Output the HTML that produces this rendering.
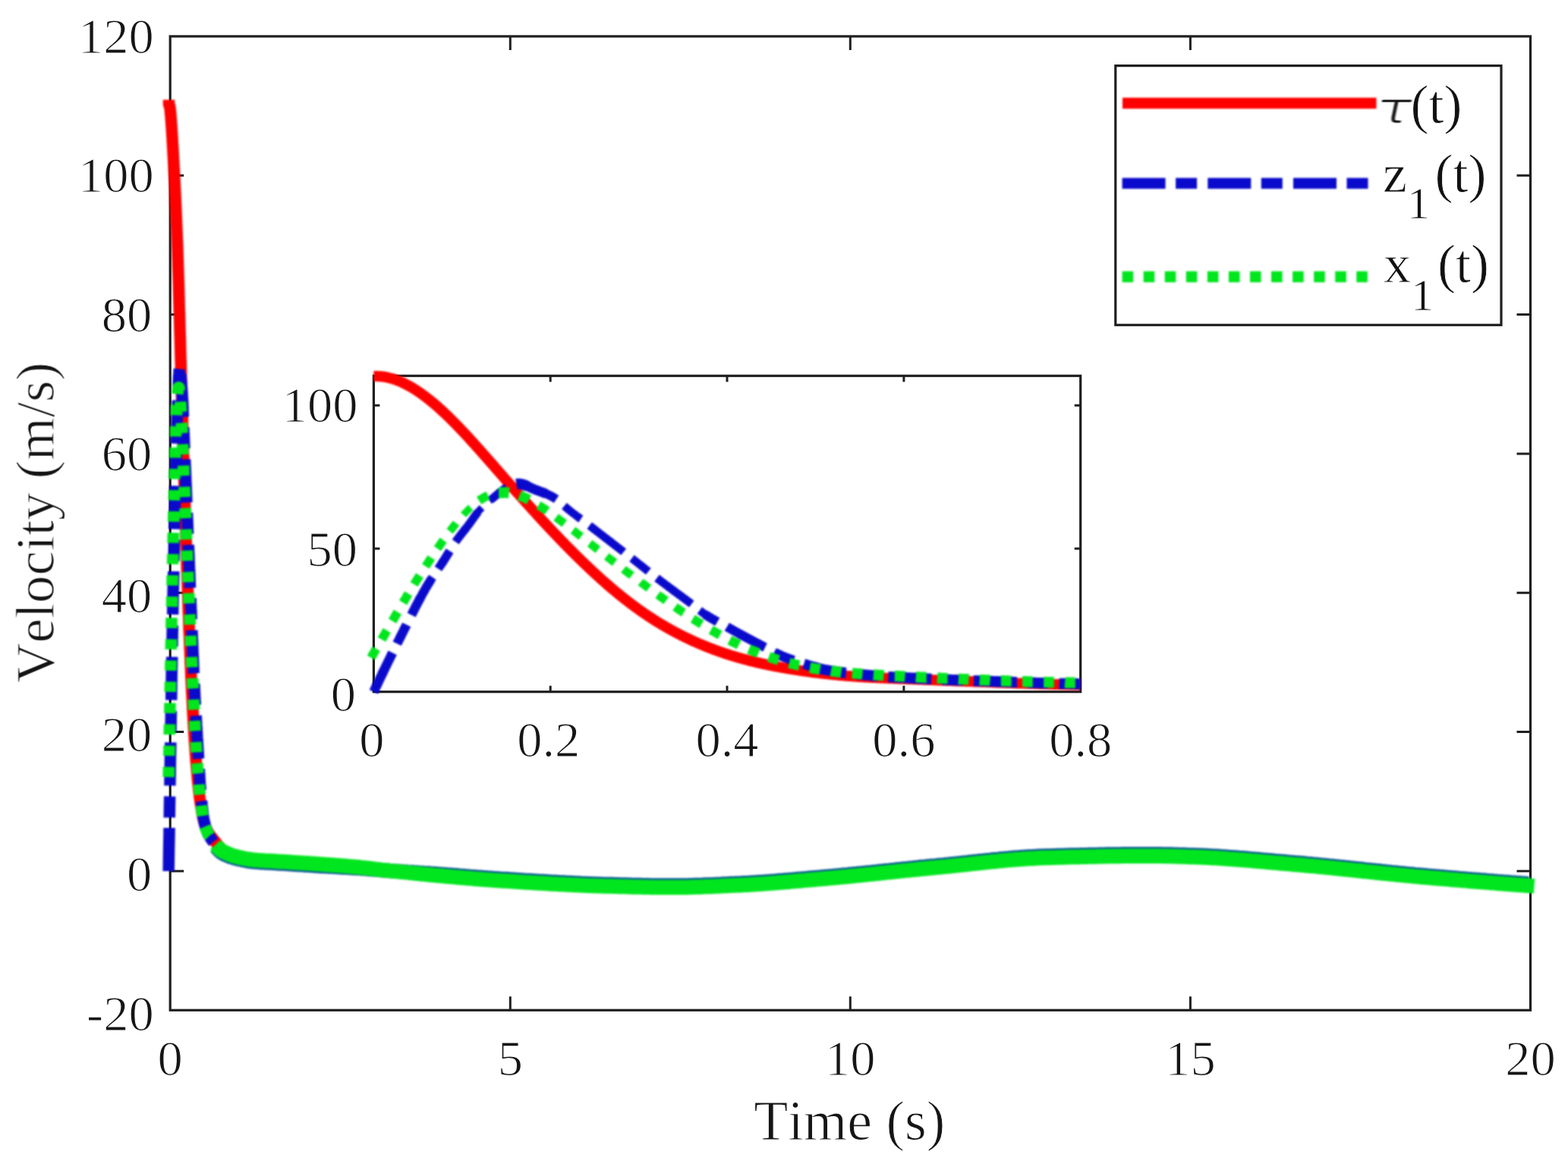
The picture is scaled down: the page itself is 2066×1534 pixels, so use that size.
<!DOCTYPE html>
<html lang="en"><head><meta charset="utf-8"><title>Velocity tracking plot</title>
<style>
html,body{margin:0;padding:0;background:#ffffff;}
body{width:2066px;height:1534px;overflow:hidden;}
svg{display:block;}
text{font-family:"Liberation Serif","DejaVu Serif",serif;fill:#151515;stroke:#ffffff;stroke-width:1.15px;paint-order:fill stroke;font-kerning:none;}
.tk{font-size:66.5px;}
.lab{font-size:74.2px;}
.leg{font-size:72.0px;fill:#111111;stroke-width:0.8px;}
.lab{stroke-width:1.1px;}
.ax{stroke:#1f1f1f;stroke-width:3.20;fill:none;}
.tick{stroke:#1f1f1f;stroke-width:3.00;fill:none;}
.c{fill:none;stroke-width:13.40;stroke-linejoin:round;}
text{filter:blur(0.75px);}
.cv{filter:blur(0.80px);}
.ci{stroke-width:13.4px;}
.cm{stroke-width:15.5px;}
.cl{stroke-width:14.4px;}
.r{stroke:#ff0000;}
.b{stroke:#0a0acc;stroke-dasharray:57 13.5 28 14.2;}
.g{stroke:#00e61e;stroke-dasharray:13.6 14.46;}
.gs{stroke:#00e61e;}
.bs{stroke:#0a0acc;}
</style></head>
<body>
<svg width="2066" height="1534" viewBox="0 0 2066 1534" role="img" aria-label="Velocity versus time plot">
<rect x="0" y="0" width="2066" height="1534" fill="#ffffff"/>
<g>
<g id="main-axes">
<rect class="ax" x="224.2" y="47.9" width="1792.3" height="1283.4"/>
<path class="tick" d="M672.3 1331.3 v-18.0 M672.3 47.9 v18.0 M1120.3 1331.3 v-18.0 M1120.3 47.9 v18.0 M1568.4 1331.3 v-18.0 M1568.4 47.9 v18.0 M224.2 1148.0 h18.0 M2016.5 1148.0 h-18.0 M224.2 964.6 h18.0 M2016.5 964.6 h-18.0 M224.2 781.3 h18.0 M2016.5 781.3 h-18.0 M224.2 597.9 h18.0 M2016.5 597.9 h-18.0 M224.2 414.6 h18.0 M2016.5 414.6 h-18.0 M224.2 231.2 h18.0 M2016.5 231.2 h-18.0"/>
<text class="tk" x="224.2" y="1417.0" text-anchor="middle">0</text>
<text class="tk" x="672.3" y="1417.0" text-anchor="middle">5</text>
<text class="tk" x="1120.3" y="1417.0" text-anchor="middle">10</text>
<text class="tk" x="1568.4" y="1417.0" text-anchor="middle">15</text>
<text class="tk" x="2016.5" y="1417.0" text-anchor="middle">20</text>
<text class="tk" x="202.7" y="1357.6" text-anchor="end">-20</text>
<text class="tk" x="200.3" y="1173.8" text-anchor="end">0</text>
<text class="tk" x="200.3" y="989.8" text-anchor="end">20</text>
<text class="tk" x="200.3" y="806.7" text-anchor="end">40</text>
<text class="tk" x="200.3" y="619.7" text-anchor="end">60</text>
<text class="tk" x="200.3" y="437.1" text-anchor="end">80</text>
<text class="tk" x="202.7" y="253.0" text-anchor="end">100</text>
<text class="tk" x="202.7" y="69.7" text-anchor="end">120</text>
<text class="lab" x="1119.3" y="1501.5" text-anchor="middle" style="font-size:73.8px">Time (s)</text>
<text class="lab" transform="translate(70.6 688.6) rotate(-90)" text-anchor="middle" style="font-size:72.8px">Velocity (m/s)</text>
</g>
<g id="main-curves" class="cv">
<path class="c cm r" d="M222.5 131.5 L222.5 137.7 L222.7 137.9 L222.9 138.2 L223.2 138.7 L223.4 139.3 L223.6 140.3 L223.8 141.7 L224.1 143.4 L224.3 145.2 L224.5 147.3 L224.7 149.7 L225.0 152.4 L225.2 155.3 L225.4 158.4 L225.7 161.8 L225.9 165.4 L226.2 169.2 L226.4 173.2 L226.7 177.4 L227.0 181.9 L227.2 186.5 L227.5 191.3 L227.8 196.3 L228.1 201.5 L228.4 206.9 L228.7 212.4 L229.0 218.1 L229.3 224.0 L229.6 230.0 L230.0 236.2 L230.3 242.5 L230.6 249.0 L230.9 255.6 L231.2 262.3 L231.5 269.1 L231.8 276.1 L232.1 283.1 L232.4 290.3 L232.7 297.5 L233.0 304.9 L233.3 312.3 L233.6 319.9 L233.9 327.5 L234.1 335.1 L234.4 342.9 L234.6 350.7 L234.9 358.5 L235.1 366.4 L235.4 374.3 L235.6 382.3 L235.8 390.3 L236.0 398.3 L236.2 406.4 L236.5 414.5 L236.7 422.5 L236.9 430.6 L237.1 438.7 L237.4 446.7 L237.6 454.8 L237.8 462.9 L238.0 470.9 L238.3 478.9 L238.5 486.9 L238.7 494.9 L238.9 502.9 L239.2 510.8 L239.4 518.8 L239.6 526.7 L239.8 534.6 L240.1 542.4 L240.3 550.3 L240.5 558.1 L240.7 565.9 L241.0 573.7 L241.2 581.4 L241.4 589.1 L241.6 596.8 L241.9 604.4 L242.1 612.0 L242.3 619.6 L242.5 627.1 L242.7 634.6 L243.0 642.1 L243.2 649.5 L243.4 656.9 L243.6 664.2 L243.9 671.5 L244.1 678.7 L244.3 685.9 L244.5 693.1 L244.8 700.2 L245.0 707.2 L245.2 714.2 L245.4 721.2 L245.7 728.1 L245.9 734.9 L246.1 741.7 L246.3 748.4 L246.6 755.1 L246.8 761.7 L247.0 768.3 L247.2 774.7 L247.5 781.2 L247.7 787.5 L247.9 793.8 L248.1 800.1 L248.3 806.2 L248.6 812.3 L248.8 818.3 L249.0 824.3 L249.2 830.2 L249.5 836.0 L249.7 841.7 L249.9 847.4 L250.1 852.9 L250.4 858.4 L250.6 863.9 L250.8 869.2 L251.0 874.4 L251.3 879.6 L251.5 884.7 L251.7 889.7 L251.9 894.6 L252.2 899.5 L252.4 904.2 L252.6 908.9 L252.8 913.5 L253.1 918.0 L253.3 922.4 L253.5 926.8 L253.7 931.1 L253.9 935.3 L254.2 939.4 L254.4 943.5 L254.6 947.5 L254.8 951.4 L255.1 955.2 L255.3 959.0 L255.5 962.7 L255.7 966.3 L256.0 969.8 L256.2 973.3 L256.4 976.7 L256.6 980.1 L256.9 983.4 L257.1 986.6 L257.3 989.8 L257.5 992.8 L257.8 995.9 L258.0 998.8 L258.2 1001.7 L258.4 1004.6 L258.7 1007.4 L258.9 1010.1 L259.1 1012.8 L259.3 1015.4 L259.5 1017.9 L259.8 1020.4 L260.0 1022.8 L260.2 1025.2 L260.4 1027.6 L260.7 1029.8 L260.9 1032.1 L261.1 1034.2 L261.3 1036.3 L261.6 1038.4 L261.8 1040.4 L262.0 1042.4 L262.2 1044.3 L262.5 1046.2 L262.7 1048.1 L262.9 1049.8 L263.1 1051.6 L263.4 1053.3 L263.6 1054.9 L263.8 1056.5 L264.0 1058.1 L264.3 1059.7 L264.5 1061.1 L264.7 1062.6 L264.9 1064.0 L265.2 1065.4 L265.4 1066.7 L265.6 1068.0 L265.8 1069.3 L266.0 1070.5 L266.3 1071.7 L266.5 1072.9 L266.7 1074.0 L266.9 1075.1 L267.2 1076.2 L267.4 1077.2 L267.6 1078.2 L267.8 1079.2 L268.1 1080.1 L268.3 1081.0 L268.5 1081.9 L268.7 1082.8 L269.0 1083.6 L269.2 1084.4 L269.4 1085.2 L269.6 1086.0 L269.9 1086.7 L270.1 1087.4 L270.3 1088.1 L270.5 1088.7 L270.8 1089.4 L271.0 1090.0 L271.2 1090.6 L271.4 1091.2 L271.6 1091.7 L271.9 1092.3 L272.1 1092.8 L272.3 1093.3 L272.5 1093.8 L272.8 1094.3 L273.0 1094.7 L273.2 1095.2 L273.4 1095.6 L273.7 1096.0 L273.9 1096.4 L274.1 1096.8 L274.3 1097.2 L274.6 1097.5 L274.8 1097.9 L275.0 1098.2 L275.2 1098.6 L275.5 1098.9 L275.7 1099.2 L275.9 1099.5 L276.1 1099.8 L276.4 1100.1 L276.6 1100.4 L276.8 1100.7 L277.0 1101.0 L277.2 1101.3 L277.5 1101.6 L277.7 1101.9 L277.9 1102.1 L278.1 1102.4 L278.4 1102.7 L278.6 1103.0 L278.8 1103.3 L279.0 1103.5 L279.3 1103.8 L279.5 1104.1 L279.7 1104.4 L279.9 1104.6 L280.2 1104.9 L280.4 1105.2 L280.6 1105.5 L280.8 1105.8 L281.1 1106.0 L281.3 1106.3 L281.5 1106.6 L281.7 1106.9 L282.0 1107.2 L282.2 1107.4 L282.4 1107.7 L282.6 1108.0 L282.8 1108.3 L283.1 1108.6 L283.3 1108.8 L283.5 1109.1 L283.7 1109.4 L284.0 1109.7 L284.2 1109.9 L284.4 1110.2 L284.6 1110.5 L284.9 1110.8 L285.1 1111.0 L285.3 1111.3 L285.5 1111.6 L285.8 1111.8 L286.0 1112.1 L286.2 1112.4 L286.4 1112.6 L286.7 1112.9 L286.9 1113.2 L287.1 1113.4 L287.3 1113.7 L287.6 1114.0 L287.8 1114.2 L288.0 1114.5 L288.2 1114.7 L288.5 1115.0 L288.7 1115.2 L288.9 1115.5 L289.1 1115.7 L289.3 1116.0 L289.6 1116.2 L289.8 1116.5 L290.0 1116.7 L290.2 1117.0 L290.5 1117.2 L290.7 1117.4 L290.9 1117.7 L291.1 1117.9 L291.4 1118.1 L291.6 1118.4 L291.8 1118.6 L292.0 1118.8 L292.3 1119.0 L292.5 1119.3 L292.7 1119.5 L292.9 1119.7 L293.2 1119.9 L293.4 1120.1 L293.6 1120.3 L293.8 1120.5 L294.1 1120.7 L294.3 1120.9 L294.5 1121.1 L294.7 1121.3 L294.9 1121.5 L295.2 1121.7 L295.4 1121.9 L295.6 1122.1 L295.8 1122.3 L296.1 1122.5 L296.3 1122.6 L296.5 1122.7 L296.7 1122.9 L297.0 1123.0 L297.2 1123.1 L297.4 1123.2 L297.6 1123.3 L297.9 1123.5 L298.1 1123.6 L298.3 1123.7 L298.5 1123.8 L298.8 1123.9 L299.0 1124.0 L299.2 1124.1 L299.4 1124.2 L299.7 1124.3 L299.9 1124.4 L300.1 1124.5 L300.3 1124.6 L300.5 1124.7 L300.8 1124.8 L301.0 1124.9 L301.2 1125.0 L301.4 1125.1 L301.7 1125.2 L301.9 1125.3 L302.1 1125.4 L302.3 1125.5 L302.6 1125.5 L302.8 1125.6 L303.0 1125.7 L303.2 1125.8 L303.5 1125.9 L303.7 1126.0 L303.9 1126.0 L304.1 1126.1 L304.4 1126.2 L304.6 1126.3 L304.8 1126.3 L305.0 1126.4 L305.3 1126.5 L305.5 1126.6 L305.7 1126.6 L305.9 1126.7 L306.1 1126.8 L306.4 1126.8 L306.6 1126.9 L306.8 1127.0 L307.0 1127.0 L307.3 1127.1 L307.5 1127.2 L307.7 1127.2 L307.9 1127.3 L308.2 1127.4 L308.4 1127.4 L308.6 1127.5 L308.8 1127.5 L309.1 1127.6 L309.3 1127.7 L309.5 1127.7 L309.7 1127.8 L310.0 1127.9 L310.2 1127.9 L310.4 1128.0 L310.6 1128.0 L310.9 1128.1 L311.1 1128.2 L311.3 1128.2 L311.5 1128.3 L311.8 1128.3 L312.0 1128.4 L312.2 1128.4 L312.4 1128.5 L312.6 1128.6 L312.9 1128.6 L313.1 1128.7 L313.3 1128.7 L313.5 1128.8 L313.8 1128.9 L314.0 1128.9 L314.2 1129.0 L317.6 1129.8 L321.0 1130.6 L324.5 1131.3 L327.9 1132.0 L331.3 1132.5 L334.7 1133.0 L338.1 1133.3 L341.5 1133.6 L344.9 1133.9 L348.3 1134.1 L351.7 1134.3 L355.2 1134.4 L358.6 1134.6 L362.0 1134.8 L365.4 1135.0 L368.8 1135.2 L372.2 1135.4 L375.6 1135.6 L379.0 1135.8 L382.5 1136.0 L385.9 1136.2 L389.3 1136.5 L392.7 1136.7 L396.1 1136.9 L399.5 1137.1 L402.9 1137.4 L406.3 1137.6 L409.8 1137.8 L413.2 1138.1 L416.6 1138.3 L420.0 1138.5 L423.4 1138.8 L426.8 1139.0 L430.2 1139.3 L433.6 1139.5 L437.1 1139.7 L440.5 1140.0 L443.9 1140.3 L447.3 1140.5 L450.7 1140.8 L454.1 1141.1 L457.5 1141.3 L460.9 1141.6 L464.4 1141.9 L467.8 1142.2 L471.2 1142.5 L474.6 1142.8 L478.0 1143.2 L481.4 1143.5 L484.8 1143.9 L488.2 1144.3 L491.6 1144.7 L495.1 1145.1 L498.5 1145.6 L501.9 1146.0 L505.3 1146.4 L508.7 1146.8 L512.1 1147.1 L515.5 1147.5 L518.9 1147.8 L522.4 1148.2 L525.8 1148.5 L529.2 1148.9 L532.6 1149.2 L536.0 1149.6 L539.4 1149.9 L542.8 1150.3 L546.2 1150.6 L549.7 1151.0 L553.1 1151.3 L556.5 1151.7 L559.9 1152.0 L563.3 1152.4 L566.7 1152.7 L570.1 1153.0 L573.5 1153.4 L577.0 1153.7 L580.4 1154.0 L583.8 1154.3 L587.2 1154.6 L590.6 1155.0 L594.0 1155.3 L597.4 1155.6 L600.8 1155.9 L604.3 1156.2 L607.7 1156.5 L611.1 1156.8 L614.5 1157.1 L617.9 1157.4 L621.3 1157.6 L624.7 1157.9 L628.1 1158.2 L631.5 1158.5 L635.0 1158.7 L638.4 1159.0 L641.8 1159.2 L645.2 1159.5 L648.6 1159.7 L652.0 1160.0 L655.4 1160.2 L658.8 1160.4 L662.3 1160.7 L665.7 1160.9 L669.1 1161.1 L672.5 1161.3 L675.9 1161.6 L679.3 1161.8 L682.7 1162.0 L686.1 1162.2 L689.6 1162.4 L693.0 1162.7 L696.4 1162.9 L699.8 1163.1 L703.2 1163.3 L706.6 1163.5 L710.0 1163.7 L713.4 1163.9 L716.9 1164.1 L720.3 1164.3 L723.7 1164.5 L727.1 1164.7 L730.5 1164.9 L733.9 1165.1 L737.3 1165.3 L740.7 1165.5 L744.2 1165.6 L747.6 1165.8 L751.0 1166.0 L754.4 1166.1 L757.8 1166.3 L761.2 1166.5 L764.6 1166.6 L768.0 1166.8 L771.4 1166.9 L774.9 1167.0 L778.3 1167.2 L781.7 1167.3 L785.1 1167.4 L788.5 1167.5 L791.9 1167.7 L795.3 1167.8 L798.7 1167.9 L802.2 1168.0 L805.6 1168.0 L809.0 1168.1 L812.4 1168.2 L815.8 1168.3 L819.2 1168.4 L822.6 1168.5 L826.0 1168.6 L829.5 1168.7 L832.9 1168.8 L836.3 1168.9 L839.7 1168.9 L843.1 1169.0 L846.5 1169.1 L849.9 1169.2 L853.3 1169.2 L856.8 1169.3 L860.2 1169.4 L863.6 1169.4 L867.0 1169.5 L870.4 1169.5 L873.8 1169.5 L877.2 1169.6 L880.6 1169.6 L884.1 1169.6 L887.5 1169.6 L890.9 1169.6 L894.3 1169.6 L897.7 1169.5 L901.1 1169.5 L904.5 1169.4 L907.9 1169.4 L911.3 1169.3 L914.8 1169.2 L918.2 1169.1 L921.6 1169.0 L925.0 1168.9 L928.4 1168.8 L931.8 1168.6 L935.2 1168.5 L938.6 1168.4 L942.1 1168.2 L945.5 1168.1 L948.9 1167.9 L952.3 1167.8 L955.7 1167.6 L959.1 1167.5 L962.5 1167.3 L965.9 1167.1 L969.4 1167.0 L972.8 1166.8 L976.2 1166.7 L979.6 1166.5 L983.0 1166.3 L986.4 1166.2 L989.8 1166.0 L993.2 1165.8 L996.7 1165.6 L1000.1 1165.3 L1003.5 1165.1 L1006.9 1164.9 L1010.3 1164.6 L1013.7 1164.4 L1017.1 1164.1 L1020.5 1163.9 L1024.0 1163.6 L1027.4 1163.3 L1030.8 1163.0 L1034.2 1162.8 L1037.6 1162.5 L1041.0 1162.2 L1044.4 1161.9 L1047.8 1161.6 L1051.2 1161.3 L1054.7 1161.0 L1058.1 1160.7 L1061.5 1160.4 L1064.9 1160.1 L1068.3 1159.8 L1071.7 1159.5 L1075.1 1159.2 L1078.5 1158.9 L1082.0 1158.6 L1085.4 1158.3 L1088.8 1158.0 L1092.2 1157.7 L1095.6 1157.4 L1099.0 1157.1 L1102.4 1156.8 L1105.8 1156.5 L1109.3 1156.1 L1112.7 1155.8 L1116.1 1155.5 L1119.5 1155.2 L1122.9 1154.8 L1126.3 1154.5 L1129.7 1154.1 L1133.1 1153.8 L1136.6 1153.5 L1140.0 1153.1 L1143.4 1152.8 L1146.8 1152.4 L1150.2 1152.1 L1153.6 1151.7 L1157.0 1151.4 L1160.4 1151.0 L1163.9 1150.6 L1167.3 1150.3 L1170.7 1149.9 L1174.1 1149.6 L1177.5 1149.2 L1180.9 1148.9 L1184.3 1148.5 L1187.7 1148.1 L1191.1 1147.8 L1194.6 1147.4 L1198.0 1147.1 L1201.4 1146.7 L1204.8 1146.4 L1208.2 1146.0 L1211.6 1145.7 L1215.0 1145.3 L1218.4 1145.0 L1221.9 1144.7 L1225.3 1144.3 L1228.7 1144.0 L1232.1 1143.7 L1235.5 1143.4 L1238.9 1143.0 L1242.3 1142.7 L1245.7 1142.4 L1249.2 1142.0 L1252.6 1141.7 L1256.0 1141.3 L1259.4 1141.0 L1262.8 1140.6 L1266.2 1140.3 L1269.6 1139.9 L1273.0 1139.5 L1276.5 1139.2 L1279.9 1138.8 L1283.3 1138.4 L1286.7 1138.0 L1290.1 1137.7 L1293.5 1137.3 L1296.9 1137.0 L1300.3 1136.6 L1303.8 1136.2 L1307.2 1135.9 L1310.6 1135.5 L1314.0 1135.2 L1317.4 1134.9 L1320.8 1134.5 L1324.2 1134.2 L1327.6 1133.9 L1331.0 1133.6 L1334.5 1133.3 L1337.9 1133.0 L1341.3 1132.7 L1344.7 1132.5 L1348.1 1132.2 L1351.5 1132.0 L1354.9 1131.8 L1358.3 1131.6 L1361.8 1131.4 L1365.2 1131.2 L1368.6 1131.0 L1372.0 1130.8 L1375.4 1130.7 L1378.8 1130.6 L1382.2 1130.5 L1385.6 1130.4 L1389.1 1130.3 L1392.5 1130.2 L1395.9 1130.1 L1399.3 1130.0 L1402.7 1129.9 L1406.1 1129.8 L1409.5 1129.7 L1412.9 1129.6 L1416.4 1129.6 L1419.8 1129.5 L1423.2 1129.4 L1426.6 1129.3 L1430.0 1129.2 L1433.4 1129.2 L1436.8 1129.1 L1440.2 1129.0 L1443.7 1128.9 L1447.1 1128.9 L1450.5 1128.8 L1453.9 1128.7 L1457.3 1128.7 L1460.7 1128.6 L1464.1 1128.6 L1467.5 1128.5 L1470.9 1128.5 L1474.4 1128.4 L1477.8 1128.4 L1481.2 1128.3 L1484.6 1128.3 L1488.0 1128.3 L1491.4 1128.3 L1494.8 1128.2 L1498.2 1128.2 L1501.7 1128.2 L1505.1 1128.2 L1508.5 1128.2 L1511.9 1128.2 L1515.3 1128.2 L1518.7 1128.2 L1522.1 1128.2 L1525.5 1128.2 L1529.0 1128.3 L1532.4 1128.3 L1535.8 1128.4 L1539.2 1128.4 L1542.6 1128.5 L1546.0 1128.6 L1549.4 1128.7 L1552.8 1128.8 L1556.3 1128.9 L1559.7 1129.0 L1563.1 1129.1 L1566.5 1129.2 L1569.9 1129.4 L1573.3 1129.5 L1576.7 1129.6 L1580.1 1129.7 L1583.6 1129.8 L1587.0 1130.0 L1590.4 1130.1 L1593.8 1130.3 L1597.2 1130.5 L1600.6 1130.7 L1604.0 1130.8 L1607.4 1131.0 L1610.8 1131.3 L1614.3 1131.5 L1617.7 1131.7 L1621.1 1132.0 L1624.5 1132.2 L1627.9 1132.4 L1631.3 1132.7 L1634.7 1133.0 L1638.1 1133.2 L1641.6 1133.5 L1645.0 1133.8 L1648.4 1134.1 L1651.8 1134.4 L1655.2 1134.7 L1658.6 1135.0 L1662.0 1135.3 L1665.4 1135.6 L1668.9 1135.9 L1672.3 1136.2 L1675.7 1136.5 L1679.1 1136.8 L1682.5 1137.1 L1685.9 1137.4 L1689.3 1137.7 L1692.7 1138.0 L1696.2 1138.3 L1699.6 1138.6 L1703.0 1138.9 L1706.4 1139.2 L1709.8 1139.5 L1713.2 1139.7 L1716.6 1140.0 L1720.0 1140.3 L1723.5 1140.7 L1726.9 1141.0 L1730.3 1141.3 L1733.7 1141.6 L1737.1 1141.9 L1740.5 1142.3 L1743.9 1142.6 L1747.3 1142.9 L1750.7 1143.3 L1754.2 1143.6 L1757.6 1143.9 L1761.0 1144.3 L1764.4 1144.6 L1767.8 1145.0 L1771.2 1145.3 L1774.6 1145.7 L1778.0 1146.0 L1781.5 1146.4 L1784.9 1146.8 L1788.3 1147.1 L1791.7 1147.5 L1795.1 1147.8 L1798.5 1148.2 L1801.9 1148.6 L1805.3 1148.9 L1808.8 1149.3 L1812.2 1149.6 L1815.6 1150.0 L1819.0 1150.3 L1822.4 1150.7 L1825.8 1151.0 L1829.2 1151.4 L1832.6 1151.7 L1836.1 1152.1 L1839.5 1152.4 L1842.9 1152.8 L1846.3 1153.1 L1849.7 1153.4 L1853.1 1153.8 L1856.5 1154.1 L1859.9 1154.4 L1863.4 1154.7 L1866.8 1155.1 L1870.2 1155.4 L1873.6 1155.7 L1877.0 1156.0 L1880.4 1156.3 L1883.8 1156.6 L1887.2 1156.9 L1890.6 1157.2 L1894.1 1157.5 L1897.5 1157.8 L1900.9 1158.1 L1904.3 1158.3 L1907.7 1158.6 L1911.1 1158.9 L1914.5 1159.2 L1917.9 1159.5 L1921.4 1159.8 L1924.8 1160.1 L1928.2 1160.4 L1931.6 1160.6 L1935.0 1160.9 L1938.4 1161.2 L1941.8 1161.5 L1945.2 1161.7 L1948.7 1162.0 L1952.1 1162.3 L1955.5 1162.6 L1958.9 1162.8 L1962.3 1163.1 L1965.7 1163.4 L1969.1 1163.6 L1972.5 1163.9 L1976.0 1164.2 L1979.4 1164.4 L1982.8 1164.7 L1986.2 1164.9 L1989.6 1165.2 L1993.0 1165.5 L1996.4 1165.7 L1999.8 1166.0 L2003.3 1166.2 L2006.7 1166.5 L2010.1 1166.7 L2013.5 1167.0 L2016.9 1167.2"/>
<path class="c bs" style="stroke-width:19.5;stroke:#0a5a96" d="M284.9 1116.5 L285.2 1116.8 L285.4 1117.0 L285.6 1117.3 L285.8 1117.6 L286.1 1117.8 L286.3 1118.1 L286.5 1118.3 L286.7 1118.6 L286.9 1118.9 L287.2 1119.1 L287.4 1119.4 L287.6 1119.6 L287.8 1119.9 L288.1 1120.1 L288.3 1120.4 L288.5 1120.6 L288.7 1120.8 L289.0 1121.0 L289.2 1121.3 L289.4 1121.5 L289.6 1121.7 L289.9 1121.9 L290.1 1122.1 L290.3 1122.3 L290.5 1122.5 L290.8 1122.6 L291.0 1122.8 L291.2 1123.0 L291.4 1123.2 L291.7 1123.3 L291.9 1123.5 L292.1 1123.7 L292.3 1123.8 L292.5 1124.0 L292.8 1124.1 L293.0 1124.3 L293.2 1124.4 L293.4 1124.5 L293.7 1124.7 L293.9 1124.8 L294.1 1124.9 L294.3 1125.0 L294.6 1125.2 L294.8 1125.3 L295.0 1125.4 L295.2 1125.5 L295.5 1125.6 L295.7 1125.7 L295.9 1125.8 L296.1 1126.0 L296.4 1126.1 L296.6 1126.2 L296.8 1126.3 L297.0 1126.4 L297.3 1126.5 L297.5 1126.6 L297.7 1126.7 L297.9 1126.8 L298.1 1126.9 L298.4 1127.0 L298.6 1127.1 L298.8 1127.2 L299.0 1127.3 L299.3 1127.4 L299.5 1127.5 L299.7 1127.6 L299.9 1127.7 L300.2 1127.8 L300.4 1127.9 L300.6 1128.0 L300.8 1128.1 L301.1 1128.2 L301.3 1128.3 L301.5 1128.3 L301.7 1128.4 L302.0 1128.5 L302.2 1128.6 L302.4 1128.7 L302.6 1128.8 L302.9 1128.9 L303.1 1128.9 L303.3 1129.0 L303.5 1129.1 L303.7 1129.2 L304.0 1129.2 L304.2 1129.3 L304.4 1129.4 L304.6 1129.5 L304.9 1129.5 L305.1 1129.6 L305.3 1129.7 L305.5 1129.8 L305.8 1129.8 L306.0 1129.9 L306.2 1130.0 L306.4 1130.0 L306.7 1130.1 L306.9 1130.2 L307.1 1130.2 L307.3 1130.3 L307.6 1130.4 L307.8 1130.4 L308.0 1130.5 L308.2 1130.5 L308.5 1130.6 L308.7 1130.7 L308.9 1130.7 L309.1 1130.8 L309.4 1130.8 L309.6 1130.9 L309.8 1131.0 L310.0 1131.0 L310.2 1131.1 L310.5 1131.1 L310.7 1131.2 L310.9 1131.3 L311.1 1131.3 L311.4 1131.4 L311.6 1131.4 L311.8 1131.5 L315.2 1132.3 L318.6 1133.1 L322.1 1133.8 L325.5 1134.5 L328.9 1135.0 L332.3 1135.5 L335.7 1135.8 L339.1 1136.1 L342.5 1136.4 L345.9 1136.6 L349.3 1136.8 L352.8 1136.9 L356.2 1137.1 L359.6 1137.3 L363.0 1137.5 L366.4 1137.7 L369.8 1137.9 L373.2 1138.1 L376.6 1138.3 L380.1 1138.5 L383.5 1138.7 L386.9 1139.0 L390.3 1139.2 L393.7 1139.4 L397.1 1139.6 L400.5 1139.9 L403.9 1140.1 L407.4 1140.3 L410.8 1140.5 L414.2 1140.7 L417.6 1141.0 L421.0 1141.2 L424.4 1141.4 L427.8 1141.6 L431.2 1141.8 L434.7 1141.9 L438.1 1142.1 L441.5 1142.3 L444.9 1142.5 L448.3 1142.7 L451.7 1142.9 L455.1 1143.1 L458.5 1143.3 L462.0 1143.5 L465.4 1143.7 L468.8 1143.9 L472.2 1144.1 L475.6 1144.4 L479.0 1144.6 L482.4 1144.9 L485.8 1145.2 L489.2 1145.5 L492.7 1145.8 L496.1 1146.1 L499.5 1146.4 L502.9 1146.7 L506.3 1147.0 L509.7 1147.2 L513.1 1147.5 L516.5 1147.7 L520.0 1148.0 L523.4 1148.2 L526.8 1148.4 L530.2 1148.7 L533.6 1148.9 L537.0 1149.2 L540.4 1149.4 L543.8 1149.6 L547.3 1149.9 L550.7 1150.1 L554.1 1150.4 L557.5 1150.6 L560.9 1150.9 L564.3 1151.1 L567.7 1151.3 L571.1 1151.6 L574.6 1151.8 L578.0 1152.1 L581.4 1152.3 L584.8 1152.6 L588.2 1152.8 L591.6 1153.1 L595.0 1153.3 L598.4 1153.6 L601.9 1153.8 L605.3 1154.1 L608.7 1154.4 L612.1 1154.6 L615.5 1154.9 L618.9 1155.2 L622.3 1155.4 L625.7 1155.7 L629.1 1156.0 L632.6 1156.2 L636.0 1156.5 L639.4 1156.7 L642.8 1157.0 L646.2 1157.2 L649.6 1157.5 L653.0 1157.7 L656.4 1157.9 L659.9 1158.2 L663.3 1158.4 L666.7 1158.6 L670.1 1158.8 L673.5 1159.1 L676.9 1159.3 L680.3 1159.5 L683.7 1159.7 L687.2 1159.9 L690.6 1160.2 L694.0 1160.4 L697.4 1160.6 L700.8 1160.8 L704.2 1161.0 L707.6 1161.2 L711.0 1161.4 L714.5 1161.6 L717.9 1161.8 L721.3 1162.0 L724.7 1162.2 L728.1 1162.4 L731.5 1162.6 L734.9 1162.8 L738.3 1163.0 L741.8 1163.1 L745.2 1163.3 L748.6 1163.5 L752.0 1163.6 L755.4 1163.8 L758.8 1164.0 L762.2 1164.1 L765.6 1164.3 L769.0 1164.4 L772.5 1164.5 L775.9 1164.7 L779.3 1164.8 L782.7 1164.9 L786.1 1165.0 L789.5 1165.2 L792.9 1165.3 L796.3 1165.4 L799.8 1165.5 L803.2 1165.5 L806.6 1165.6 L810.0 1165.7 L813.4 1165.8 L816.8 1165.9 L820.2 1166.0 L823.6 1166.1 L827.1 1166.2 L830.5 1166.3 L833.9 1166.4 L837.3 1166.4 L840.7 1166.5 L844.1 1166.6 L847.5 1166.7 L850.9 1166.7 L854.4 1166.8 L857.8 1166.9 L861.2 1166.9 L864.6 1167.0 L868.0 1167.0 L871.4 1167.0 L874.8 1167.1 L878.2 1167.1 L881.7 1167.1 L885.1 1167.1 L888.5 1167.1 L891.9 1167.1 L895.3 1167.0 L898.7 1167.0 L902.1 1166.9 L905.5 1166.9 L908.9 1166.8 L912.4 1166.7 L915.8 1166.6 L919.2 1166.5 L922.6 1166.4 L926.0 1166.3 L929.4 1166.1 L932.8 1166.0 L936.2 1165.9 L939.7 1165.7 L943.1 1165.6 L946.5 1165.4 L949.9 1165.3 L953.3 1165.1 L956.7 1165.0 L960.1 1164.8 L963.5 1164.6 L967.0 1164.5 L970.4 1164.3 L973.8 1164.2 L977.2 1164.0 L980.6 1163.8 L984.0 1163.7 L987.4 1163.5 L990.8 1163.3 L994.3 1163.1 L997.7 1162.8 L1001.1 1162.6 L1004.5 1162.4 L1007.9 1162.1 L1011.3 1161.9 L1014.7 1161.6 L1018.1 1161.4 L1021.6 1161.1 L1025.0 1160.8 L1028.4 1160.5 L1031.8 1160.3 L1035.2 1160.0 L1038.6 1159.7 L1042.0 1159.4 L1045.4 1159.1 L1048.8 1158.8 L1052.3 1158.5 L1055.7 1158.2 L1059.1 1157.9 L1062.5 1157.6 L1065.9 1157.3 L1069.3 1157.0 L1072.7 1156.7 L1076.1 1156.4 L1079.6 1156.1 L1083.0 1155.8 L1086.4 1155.5 L1089.8 1155.2 L1093.2 1154.9 L1096.6 1154.6 L1100.0 1154.3 L1103.4 1154.0 L1106.9 1153.6 L1110.3 1153.3 L1113.7 1153.0 L1117.1 1152.7 L1120.5 1152.3 L1123.9 1152.0 L1127.3 1151.6 L1130.7 1151.3 L1134.2 1151.0 L1137.6 1150.6 L1141.0 1150.3 L1144.4 1149.9 L1147.8 1149.6 L1151.2 1149.2 L1154.6 1148.9 L1158.0 1148.5 L1161.5 1148.1 L1164.9 1147.8 L1168.3 1147.4 L1171.7 1147.1 L1175.1 1146.7 L1178.5 1146.4 L1181.9 1146.0 L1185.3 1145.6 L1188.7 1145.3 L1192.2 1144.9 L1195.6 1144.6 L1199.0 1144.2 L1202.4 1143.9 L1205.8 1143.5 L1209.2 1143.2 L1212.6 1142.8 L1216.0 1142.5 L1219.5 1142.2 L1222.9 1141.8 L1226.3 1141.5 L1229.7 1141.2 L1233.1 1140.9 L1236.5 1140.5 L1239.9 1140.2 L1243.3 1139.9 L1246.8 1139.5 L1250.2 1139.2 L1253.6 1138.8 L1257.0 1138.5 L1260.4 1138.1 L1263.8 1137.8 L1267.2 1137.4 L1270.6 1137.0 L1274.1 1136.7 L1277.5 1136.3 L1280.9 1135.9 L1284.3 1135.5 L1287.7 1135.2 L1291.1 1134.8 L1294.5 1134.5 L1297.9 1134.1 L1301.4 1133.7 L1304.8 1133.4 L1308.2 1133.0 L1311.6 1132.7 L1315.0 1132.4 L1318.4 1132.0 L1321.8 1131.7 L1325.2 1131.4 L1328.6 1131.1 L1332.1 1130.8 L1335.5 1130.5 L1338.9 1130.2 L1342.3 1130.0 L1345.7 1129.7 L1349.1 1129.5 L1352.5 1129.3 L1355.9 1129.1 L1359.4 1128.9 L1362.8 1128.7 L1366.2 1128.5 L1369.6 1128.3 L1373.0 1128.2 L1376.4 1128.1 L1379.8 1128.0 L1383.2 1127.9 L1386.7 1127.8 L1390.1 1127.7 L1393.5 1127.6 L1396.9 1127.5 L1400.3 1127.4 L1403.7 1127.3 L1407.1 1127.2 L1410.5 1127.1 L1414.0 1127.1 L1417.4 1127.0 L1420.8 1126.9 L1424.2 1126.8 L1427.6 1126.7 L1431.0 1126.7 L1434.4 1126.6 L1437.8 1126.5 L1441.3 1126.4 L1444.7 1126.4 L1448.1 1126.3 L1451.5 1126.2 L1454.9 1126.2 L1458.3 1126.1 L1461.7 1126.1 L1465.1 1126.0 L1468.5 1126.0 L1472.0 1125.9 L1475.4 1125.9 L1478.8 1125.8 L1482.2 1125.8 L1485.6 1125.8 L1489.0 1125.8 L1492.4 1125.7 L1495.8 1125.7 L1499.3 1125.7 L1502.7 1125.7 L1506.1 1125.7 L1509.5 1125.7 L1512.9 1125.7 L1516.3 1125.7 L1519.7 1125.7 L1523.1 1125.7 L1526.6 1125.8 L1530.0 1125.8 L1533.4 1125.9 L1536.8 1125.9 L1540.2 1126.0 L1543.6 1126.1 L1547.0 1126.2 L1550.4 1126.3 L1553.9 1126.4 L1557.3 1126.5 L1560.7 1126.6 L1564.1 1126.7 L1567.5 1126.9 L1570.9 1127.0 L1574.3 1127.1 L1577.7 1127.2 L1581.2 1127.3 L1584.6 1127.5 L1588.0 1127.6 L1591.4 1127.8 L1594.8 1128.0 L1598.2 1128.2 L1601.6 1128.3 L1605.0 1128.5 L1608.4 1128.8 L1611.9 1129.0 L1615.3 1129.2 L1618.7 1129.5 L1622.1 1129.7 L1625.5 1129.9 L1628.9 1130.2 L1632.3 1130.5 L1635.7 1130.7 L1639.2 1131.0 L1642.6 1131.3 L1646.0 1131.6 L1649.4 1131.9 L1652.8 1132.2 L1656.2 1132.5 L1659.6 1132.8 L1663.0 1133.1 L1666.5 1133.4 L1669.9 1133.7 L1673.3 1134.0 L1676.7 1134.3 L1680.1 1134.6 L1683.5 1134.9 L1686.9 1135.2 L1690.3 1135.5 L1693.8 1135.8 L1697.2 1136.1 L1700.6 1136.4 L1704.0 1136.7 L1707.4 1137.0 L1710.8 1137.2 L1714.2 1137.5 L1717.6 1137.8 L1721.1 1138.2 L1724.5 1138.5 L1727.9 1138.8 L1731.3 1139.1 L1734.7 1139.4 L1738.1 1139.8 L1741.5 1140.1 L1744.9 1140.4 L1748.3 1140.8 L1751.8 1141.1 L1755.2 1141.4 L1758.6 1141.8 L1762.0 1142.1 L1765.4 1142.5 L1768.8 1142.8 L1772.2 1143.2 L1775.6 1143.5 L1779.1 1143.9 L1782.5 1144.3 L1785.9 1144.6 L1789.3 1145.0 L1792.7 1145.3 L1796.1 1145.7 L1799.5 1146.1 L1802.9 1146.4 L1806.4 1146.8 L1809.8 1147.1 L1813.2 1147.5 L1816.6 1147.8 L1820.0 1148.2 L1823.4 1148.5 L1826.8 1148.9 L1830.2 1149.2 L1833.7 1149.6 L1837.1 1149.9 L1840.5 1150.3 L1843.9 1150.6 L1847.3 1150.9 L1850.7 1151.3 L1854.1 1151.6 L1857.5 1151.9 L1861.0 1152.2 L1864.4 1152.6 L1867.8 1152.9 L1871.2 1153.2 L1874.6 1153.5 L1878.0 1153.8 L1881.4 1154.1 L1884.8 1154.4 L1888.2 1154.7 L1891.7 1155.0 L1895.1 1155.3 L1898.5 1155.6 L1901.9 1155.8 L1905.3 1156.1 L1908.7 1156.4 L1912.1 1156.7 L1915.5 1157.0 L1919.0 1157.3 L1922.4 1157.6 L1925.8 1157.9 L1929.2 1158.1 L1932.6 1158.4 L1936.0 1158.7 L1939.4 1159.0 L1942.8 1159.2 L1946.3 1159.5 L1949.7 1159.8 L1953.1 1160.1 L1956.5 1160.3 L1959.9 1160.6 L1963.3 1160.9 L1966.7 1161.1 L1970.1 1161.4 L1973.6 1161.7 L1977.0 1161.9 L1980.4 1162.2 L1983.8 1162.4 L1987.2 1162.7 L1990.6 1163.0 L1994.0 1163.2 L1997.4 1163.5 L2000.9 1163.7 L2004.3 1164.0 L2007.7 1164.2 L2011.1 1164.5 L2014.5 1164.7"/>
<path class="c cm b" d="M222.2 1148.0 L222.4 1133.0 L222.6 1118.1 L222.9 1103.3 L223.1 1088.6 L223.3 1073.9 L223.5 1059.3 L223.8 1044.9 L224.0 1030.5 L224.2 1016.2 L224.4 1001.9 L224.7 987.8 L224.9 973.8 L225.1 959.7 L225.3 945.6 L225.6 931.5 L225.8 917.4 L226.0 903.4 L226.2 889.5 L226.5 875.8 L226.7 862.2 L226.9 849.0 L227.1 836.0 L227.4 823.4 L227.6 811.2 L227.8 799.5 L228.0 788.3 L228.2 777.6 L228.5 767.1 L228.7 756.7 L228.9 746.3 L229.1 735.7 L229.4 724.7 L229.6 713.4 L229.8 702.0 L230.0 690.6 L230.3 679.5 L230.5 668.9 L230.7 659.0 L230.9 649.5 L231.2 640.5 L231.4 631.6 L231.6 622.7 L231.8 613.5 L232.1 603.8 L232.3 593.8 L232.5 583.9 L232.7 574.6 L233.0 566.2 L233.2 558.8 L233.4 551.9 L233.6 545.5 L233.8 539.4 L234.1 533.6 L234.3 527.8 L234.5 522.0 L234.7 516.0 L235.0 510.0 L235.2 504.4 L235.4 499.3 L235.6 495.3 L235.9 492.1 L236.1 489.0 L236.3 486.2 L236.5 484.0 L236.8 482.7 L237.0 482.5 L237.2 483.5 L237.4 485.4 L237.7 488.1 L237.9 491.2 L238.1 494.5 L238.3 497.7 L238.6 500.6 L238.8 503.3 L239.0 505.9 L239.2 508.6 L239.5 511.3 L239.7 514.2 L239.9 517.3 L240.1 520.6 L240.3 524.3 L240.6 528.5 L240.8 533.6 L241.0 539.2 L241.2 545.1 L241.5 551.4 L241.7 557.6 L241.9 563.7 L242.1 569.5 L242.4 575.0 L242.6 580.4 L242.8 585.8 L243.0 591.1 L243.3 596.3 L243.5 601.6 L243.7 606.9 L243.9 612.2 L244.2 617.6 L244.4 623.0 L244.6 628.5 L244.8 634.0 L245.1 639.5 L245.3 645.0 L245.5 650.5 L245.7 656.0 L245.9 661.4 L246.2 666.9 L246.4 672.3 L246.6 677.7 L246.8 683.1 L247.1 688.6 L247.3 694.0 L247.5 699.5 L247.7 705.0 L248.0 710.6 L248.2 716.1 L248.4 721.6 L248.6 727.2 L248.9 732.7 L249.1 738.3 L249.3 743.8 L249.5 749.4 L249.8 755.0 L250.0 760.6 L250.2 766.3 L250.4 771.8 L250.7 777.4 L250.9 782.8 L251.1 788.3 L251.3 793.6 L251.5 799.0 L251.8 804.3 L252.0 809.6 L252.2 814.9 L252.4 820.1 L252.7 825.4 L252.9 830.6 L253.1 835.9 L253.3 841.1 L253.6 846.3 L253.8 851.5 L254.0 856.7 L254.2 862.0 L254.5 867.5 L254.7 873.0 L254.9 878.7 L255.1 884.2 L255.4 889.7 L255.6 895.0 L255.8 900.1 L256.0 904.8 L256.3 909.3 L256.5 913.5 L256.7 917.5 L256.9 921.4 L257.1 925.2 L257.4 928.9 L257.6 932.7 L257.8 936.5 L258.0 940.3 L258.3 944.2 L258.5 948.2 L258.7 952.1 L258.9 956.0 L259.2 959.9 L259.4 963.8 L259.6 967.7 L259.8 971.5 L260.1 975.3 L260.3 979.1 L260.5 982.8 L260.7 986.6 L261.0 990.3 L261.2 994.0 L261.4 997.7 L261.6 1001.4 L261.9 1005.2 L262.1 1009.0 L262.3 1012.8 L262.5 1016.7 L262.8 1020.4 L263.0 1024.1 L263.2 1027.6 L263.4 1031.0 L263.6 1034.1 L263.9 1037.0 L264.1 1039.8 L264.3 1042.5 L264.5 1045.1 L264.8 1047.5 L265.0 1049.9 L265.2 1052.2 L265.4 1054.5 L265.7 1056.7 L265.9 1058.9 L266.1 1061.0 L266.3 1063.2 L266.6 1065.4 L266.8 1067.5 L267.0 1069.6 L267.2 1071.6 L267.5 1073.4 L267.7 1075.2 L267.9 1076.7 L268.1 1078.1 L268.4 1079.3 L268.6 1080.4 L268.8 1081.5 L269.0 1082.6 L269.2 1083.6 L269.5 1084.5 L269.7 1085.5 L269.9 1086.3 L270.1 1087.2 L270.4 1088.0 L270.6 1088.8 L270.8 1089.5 L271.0 1090.3 L271.3 1091.0 L271.5 1091.7 L271.7 1092.4 L271.9 1093.0 L272.2 1093.7 L272.4 1094.3 L272.6 1095.0 L272.8 1095.6 L273.1 1096.2 L273.3 1096.8 L273.5 1097.4 L273.7 1098.0 L274.0 1098.5 L274.2 1099.0 L274.4 1099.5 L274.6 1100.0 L274.8 1100.4 L275.1 1100.8 L275.3 1101.1 L275.5 1101.5 L275.7 1101.8 L276.0 1102.1 L276.2 1102.5 L276.4 1102.8 L276.6 1103.2 L276.9 1103.5 L277.1 1103.9 L277.3 1104.2 L277.5 1104.6 L277.8 1105.0 L278.0 1105.3 L278.2 1105.7 L278.4 1106.0 L278.7 1106.3 L278.9 1106.7 L279.1 1107.0 L279.3 1107.3 L279.6 1107.6 L279.8 1107.9 L280.0 1108.2 L280.2 1108.5 L280.4 1108.8 L280.7 1109.1 L280.9 1109.4 L281.1 1109.6 L281.3 1109.9 L281.6 1110.2 L281.8 1110.5 L282.0 1110.7 L282.2 1111.0 L282.5 1111.2 L282.7 1111.5 L282.9 1111.8 L283.1 1112.0 L283.4 1112.3 L283.6 1112.5 L283.8 1112.8 L284.0 1113.0 L284.3 1113.3 L284.5 1113.5 L284.7 1113.8"/>
<path class="c gs" style="stroke-width:19.5" d="M284.9 1114.3 L285.2 1114.6 L285.4 1114.9 L285.6 1115.2 L285.8 1115.4 L286.1 1115.7 L286.3 1115.9 L286.5 1116.2 L286.7 1116.5 L286.9 1116.7 L287.2 1116.9 L287.4 1117.2 L287.6 1117.4 L287.8 1117.7 L288.1 1117.9 L288.3 1118.1 L288.5 1118.3 L288.7 1118.6 L289.0 1118.8 L289.2 1119.0 L289.4 1119.2 L289.6 1119.4 L289.9 1119.6 L290.1 1119.8 L290.3 1119.9 L290.5 1120.1 L290.8 1120.3 L291.0 1120.5 L291.2 1120.6 L291.4 1120.8 L291.7 1120.9 L291.9 1121.1 L292.1 1121.2 L292.3 1121.4 L292.5 1121.5 L292.8 1121.6 L293.0 1121.7 L293.2 1121.9 L293.4 1122.0 L293.7 1122.1 L293.9 1122.2 L294.1 1122.3 L294.3 1122.4 L294.6 1122.5 L294.8 1122.6 L295.0 1122.7 L295.2 1122.8 L295.5 1122.9 L295.7 1123.0 L295.9 1123.1 L296.1 1123.2 L296.4 1123.3 L296.6 1123.4 L296.8 1123.5 L297.0 1123.6 L297.3 1123.7 L297.5 1123.8 L297.7 1123.9 L297.9 1124.0 L298.1 1124.1 L298.4 1124.2 L298.6 1124.3 L298.8 1124.5 L299.0 1124.6 L299.3 1124.7 L299.5 1124.8 L299.7 1124.9 L299.9 1125.0 L300.2 1125.1 L300.4 1125.2 L300.6 1125.3 L300.8 1125.4 L301.1 1125.5 L301.3 1125.6 L301.5 1125.7 L301.7 1125.8 L302.0 1125.8 L302.2 1125.9 L302.4 1126.0 L302.6 1126.1 L302.9 1126.2 L303.1 1126.3 L303.3 1126.4 L303.5 1126.5 L303.7 1126.6 L304.0 1126.7 L304.2 1126.8 L304.4 1126.8 L304.6 1126.9 L304.9 1127.0 L305.1 1127.1 L305.3 1127.2 L305.5 1127.2 L305.8 1127.3 L306.0 1127.4 L306.2 1127.5 L306.4 1127.5 L306.7 1127.6 L306.9 1127.7 L307.1 1127.7 L307.3 1127.8 L307.6 1127.9 L307.8 1127.9 L308.0 1128.0 L308.2 1128.0 L308.5 1128.1 L308.7 1128.2 L308.9 1128.2 L309.1 1128.3 L309.4 1128.3 L309.6 1128.4 L309.8 1128.5 L310.0 1128.5 L310.2 1128.6 L310.5 1128.6 L310.7 1128.7 L310.9 1128.8 L311.1 1128.8 L311.4 1128.9 L311.6 1128.9 L311.8 1129.0 L315.2 1129.9 L318.6 1130.6 L322.1 1131.4 L325.5 1132.0 L328.9 1132.5 L332.3 1133.0 L335.7 1133.3 L339.1 1133.6 L342.5 1133.9 L345.9 1134.1 L349.3 1134.3 L352.8 1134.4 L356.2 1134.6 L359.6 1134.8 L363.0 1135.0 L366.4 1135.2 L369.8 1135.4 L373.2 1135.6 L376.6 1135.8 L380.1 1136.0 L383.5 1136.2 L386.9 1136.5 L390.3 1136.7 L393.7 1136.9 L397.1 1137.1 L400.5 1137.4 L403.9 1137.6 L407.4 1137.8 L410.8 1138.1 L414.2 1138.3 L417.6 1138.5 L421.0 1138.8 L424.4 1139.0 L427.8 1139.3 L431.2 1139.5 L434.7 1139.7 L438.1 1140.0 L441.5 1140.3 L444.9 1140.5 L448.3 1140.8 L451.7 1141.1 L455.1 1141.3 L458.5 1141.6 L462.0 1141.9 L465.4 1142.2 L468.8 1142.5 L472.2 1142.8 L475.6 1143.2 L479.0 1143.5 L482.4 1143.9 L485.8 1144.3 L489.2 1144.7 L492.7 1145.1 L496.1 1145.6 L499.5 1146.0 L502.9 1146.4 L506.3 1146.8 L509.7 1147.1 L513.1 1147.5 L516.5 1147.8 L520.0 1148.2 L523.4 1148.5 L526.8 1148.9 L530.2 1149.2 L533.6 1149.6 L537.0 1149.9 L540.4 1150.3 L543.8 1150.6 L547.3 1151.0 L550.7 1151.3 L554.1 1151.7 L557.5 1152.0 L560.9 1152.4 L564.3 1152.7 L567.7 1153.0 L571.1 1153.4 L574.6 1153.7 L578.0 1154.0 L581.4 1154.3 L584.8 1154.6 L588.2 1155.0 L591.6 1155.3 L595.0 1155.6 L598.4 1155.9 L601.9 1156.2 L605.3 1156.5 L608.7 1156.8 L612.1 1157.1 L615.5 1157.4 L618.9 1157.6 L622.3 1157.9 L625.7 1158.2 L629.1 1158.5 L632.6 1158.7 L636.0 1159.0 L639.4 1159.2 L642.8 1159.5 L646.2 1159.7 L649.6 1160.0 L653.0 1160.2 L656.4 1160.4 L659.9 1160.7 L663.3 1160.9 L666.7 1161.1 L670.1 1161.3 L673.5 1161.6 L676.9 1161.8 L680.3 1162.0 L683.7 1162.2 L687.2 1162.4 L690.6 1162.7 L694.0 1162.9 L697.4 1163.1 L700.8 1163.3 L704.2 1163.5 L707.6 1163.7 L711.0 1163.9 L714.5 1164.1 L717.9 1164.3 L721.3 1164.5 L724.7 1164.7 L728.1 1164.9 L731.5 1165.1 L734.9 1165.3 L738.3 1165.5 L741.8 1165.6 L745.2 1165.8 L748.6 1166.0 L752.0 1166.1 L755.4 1166.3 L758.8 1166.5 L762.2 1166.6 L765.6 1166.8 L769.0 1166.9 L772.5 1167.0 L775.9 1167.2 L779.3 1167.3 L782.7 1167.4 L786.1 1167.5 L789.5 1167.7 L792.9 1167.8 L796.3 1167.9 L799.8 1168.0 L803.2 1168.0 L806.6 1168.1 L810.0 1168.2 L813.4 1168.3 L816.8 1168.4 L820.2 1168.5 L823.6 1168.6 L827.1 1168.7 L830.5 1168.8 L833.9 1168.9 L837.3 1168.9 L840.7 1169.0 L844.1 1169.1 L847.5 1169.2 L850.9 1169.2 L854.4 1169.3 L857.8 1169.4 L861.2 1169.4 L864.6 1169.5 L868.0 1169.5 L871.4 1169.5 L874.8 1169.6 L878.2 1169.6 L881.7 1169.6 L885.1 1169.6 L888.5 1169.6 L891.9 1169.6 L895.3 1169.5 L898.7 1169.5 L902.1 1169.4 L905.5 1169.4 L908.9 1169.3 L912.4 1169.2 L915.8 1169.1 L919.2 1169.0 L922.6 1168.9 L926.0 1168.8 L929.4 1168.6 L932.8 1168.5 L936.2 1168.4 L939.7 1168.2 L943.1 1168.1 L946.5 1167.9 L949.9 1167.8 L953.3 1167.6 L956.7 1167.5 L960.1 1167.3 L963.5 1167.1 L967.0 1167.0 L970.4 1166.8 L973.8 1166.7 L977.2 1166.5 L980.6 1166.3 L984.0 1166.2 L987.4 1166.0 L990.8 1165.8 L994.3 1165.6 L997.7 1165.3 L1001.1 1165.1 L1004.5 1164.9 L1007.9 1164.6 L1011.3 1164.4 L1014.7 1164.1 L1018.1 1163.9 L1021.6 1163.6 L1025.0 1163.3 L1028.4 1163.0 L1031.8 1162.8 L1035.2 1162.5 L1038.6 1162.2 L1042.0 1161.9 L1045.4 1161.6 L1048.8 1161.3 L1052.3 1161.0 L1055.7 1160.7 L1059.1 1160.4 L1062.5 1160.1 L1065.9 1159.8 L1069.3 1159.5 L1072.7 1159.2 L1076.1 1158.9 L1079.6 1158.6 L1083.0 1158.3 L1086.4 1158.0 L1089.8 1157.7 L1093.2 1157.4 L1096.6 1157.1 L1100.0 1156.8 L1103.4 1156.5 L1106.9 1156.1 L1110.3 1155.8 L1113.7 1155.5 L1117.1 1155.2 L1120.5 1154.8 L1123.9 1154.5 L1127.3 1154.1 L1130.7 1153.8 L1134.2 1153.5 L1137.6 1153.1 L1141.0 1152.8 L1144.4 1152.4 L1147.8 1152.1 L1151.2 1151.7 L1154.6 1151.4 L1158.0 1151.0 L1161.5 1150.6 L1164.9 1150.3 L1168.3 1149.9 L1171.7 1149.6 L1175.1 1149.2 L1178.5 1148.9 L1181.9 1148.5 L1185.3 1148.1 L1188.7 1147.8 L1192.2 1147.4 L1195.6 1147.1 L1199.0 1146.7 L1202.4 1146.4 L1205.8 1146.0 L1209.2 1145.7 L1212.6 1145.3 L1216.0 1145.0 L1219.5 1144.7 L1222.9 1144.3 L1226.3 1144.0 L1229.7 1143.7 L1233.1 1143.4 L1236.5 1143.0 L1239.9 1142.7 L1243.3 1142.4 L1246.8 1142.0 L1250.2 1141.7 L1253.6 1141.3 L1257.0 1141.0 L1260.4 1140.6 L1263.8 1140.3 L1267.2 1139.9 L1270.6 1139.5 L1274.1 1139.2 L1277.5 1138.8 L1280.9 1138.4 L1284.3 1138.0 L1287.7 1137.7 L1291.1 1137.3 L1294.5 1137.0 L1297.9 1136.6 L1301.4 1136.2 L1304.8 1135.9 L1308.2 1135.5 L1311.6 1135.2 L1315.0 1134.9 L1318.4 1134.5 L1321.8 1134.2 L1325.2 1133.9 L1328.6 1133.6 L1332.1 1133.3 L1335.5 1133.0 L1338.9 1132.7 L1342.3 1132.5 L1345.7 1132.2 L1349.1 1132.0 L1352.5 1131.8 L1355.9 1131.6 L1359.4 1131.4 L1362.8 1131.2 L1366.2 1131.0 L1369.6 1130.8 L1373.0 1130.7 L1376.4 1130.6 L1379.8 1130.5 L1383.2 1130.4 L1386.7 1130.3 L1390.1 1130.2 L1393.5 1130.1 L1396.9 1130.0 L1400.3 1129.9 L1403.7 1129.8 L1407.1 1129.7 L1410.5 1129.6 L1414.0 1129.6 L1417.4 1129.5 L1420.8 1129.4 L1424.2 1129.3 L1427.6 1129.2 L1431.0 1129.2 L1434.4 1129.1 L1437.8 1129.0 L1441.3 1128.9 L1444.7 1128.9 L1448.1 1128.8 L1451.5 1128.7 L1454.9 1128.7 L1458.3 1128.6 L1461.7 1128.6 L1465.1 1128.5 L1468.5 1128.5 L1472.0 1128.4 L1475.4 1128.4 L1478.8 1128.3 L1482.2 1128.3 L1485.6 1128.3 L1489.0 1128.3 L1492.4 1128.2 L1495.8 1128.2 L1499.3 1128.2 L1502.7 1128.2 L1506.1 1128.2 L1509.5 1128.2 L1512.9 1128.2 L1516.3 1128.2 L1519.7 1128.2 L1523.1 1128.2 L1526.6 1128.3 L1530.0 1128.3 L1533.4 1128.4 L1536.8 1128.4 L1540.2 1128.5 L1543.6 1128.6 L1547.0 1128.7 L1550.4 1128.8 L1553.9 1128.9 L1557.3 1129.0 L1560.7 1129.1 L1564.1 1129.2 L1567.5 1129.4 L1570.9 1129.5 L1574.3 1129.6 L1577.7 1129.7 L1581.2 1129.8 L1584.6 1130.0 L1588.0 1130.1 L1591.4 1130.3 L1594.8 1130.5 L1598.2 1130.7 L1601.6 1130.8 L1605.0 1131.0 L1608.4 1131.3 L1611.9 1131.5 L1615.3 1131.7 L1618.7 1132.0 L1622.1 1132.2 L1625.5 1132.4 L1628.9 1132.7 L1632.3 1133.0 L1635.7 1133.2 L1639.2 1133.5 L1642.6 1133.8 L1646.0 1134.1 L1649.4 1134.4 L1652.8 1134.7 L1656.2 1135.0 L1659.6 1135.3 L1663.0 1135.6 L1666.5 1135.9 L1669.9 1136.2 L1673.3 1136.5 L1676.7 1136.8 L1680.1 1137.1 L1683.5 1137.4 L1686.9 1137.7 L1690.3 1138.0 L1693.8 1138.3 L1697.2 1138.6 L1700.6 1138.9 L1704.0 1139.2 L1707.4 1139.5 L1710.8 1139.7 L1714.2 1140.0 L1717.6 1140.3 L1721.1 1140.7 L1724.5 1141.0 L1727.9 1141.3 L1731.3 1141.6 L1734.7 1141.9 L1738.1 1142.3 L1741.5 1142.6 L1744.9 1142.9 L1748.3 1143.3 L1751.8 1143.6 L1755.2 1143.9 L1758.6 1144.3 L1762.0 1144.6 L1765.4 1145.0 L1768.8 1145.3 L1772.2 1145.7 L1775.6 1146.0 L1779.1 1146.4 L1782.5 1146.8 L1785.9 1147.1 L1789.3 1147.5 L1792.7 1147.8 L1796.1 1148.2 L1799.5 1148.6 L1802.9 1148.9 L1806.4 1149.3 L1809.8 1149.6 L1813.2 1150.0 L1816.6 1150.3 L1820.0 1150.7 L1823.4 1151.0 L1826.8 1151.4 L1830.2 1151.7 L1833.7 1152.1 L1837.1 1152.4 L1840.5 1152.8 L1843.9 1153.1 L1847.3 1153.4 L1850.7 1153.8 L1854.1 1154.1 L1857.5 1154.4 L1861.0 1154.7 L1864.4 1155.1 L1867.8 1155.4 L1871.2 1155.7 L1874.6 1156.0 L1878.0 1156.3 L1881.4 1156.6 L1884.8 1156.9 L1888.2 1157.2 L1891.7 1157.5 L1895.1 1157.8 L1898.5 1158.1 L1901.9 1158.3 L1905.3 1158.6 L1908.7 1158.9 L1912.1 1159.2 L1915.5 1159.5 L1919.0 1159.8 L1922.4 1160.1 L1925.8 1160.4 L1929.2 1160.6 L1932.6 1160.9 L1936.0 1161.2 L1939.4 1161.5 L1942.8 1161.7 L1946.3 1162.0 L1949.7 1162.3 L1953.1 1162.6 L1956.5 1162.8 L1959.9 1163.1 L1963.3 1163.4 L1966.7 1163.6 L1970.1 1163.9 L1973.6 1164.2 L1977.0 1164.4 L1980.4 1164.7 L1983.8 1164.9 L1987.2 1165.2 L1990.6 1165.5 L1994.0 1165.7 L1997.4 1166.0 L2000.9 1166.2 L2004.3 1166.5 L2007.7 1166.7 L2011.1 1167.0 L2014.5 1167.2 L2021.5 1167.7"/>
<path class="c cm g" d="M222.2 1024.2 L222.4 1012.1 L222.6 999.9 L222.9 987.8 L223.1 975.7 L223.3 963.6 L223.5 951.5 L223.8 939.3 L224.0 927.2 L224.2 915.0 L224.4 902.8 L224.7 890.5 L224.9 878.4 L225.1 866.3 L225.3 854.3 L225.6 842.3 L225.8 830.5 L226.0 818.9 L226.2 807.4 L226.5 796.1 L226.7 784.9 L226.9 773.8 L227.1 762.8 L227.4 751.9 L227.6 741.1 L227.8 730.4 L228.0 719.7 L228.2 709.2 L228.5 698.7 L228.7 688.4 L228.9 678.1 L229.1 668.0 L229.4 658.1 L229.6 648.4 L229.8 638.8 L230.0 629.4 L230.3 620.3 L230.5 611.4 L230.7 602.8 L230.9 594.4 L231.2 586.4 L231.4 578.7 L231.6 571.3 L231.8 564.2 L232.1 557.6 L232.3 551.3 L232.5 545.3 L232.7 539.8 L233.0 534.8 L233.2 530.3 L233.4 526.0 L233.6 522.3 L233.8 519.3 L234.1 516.7 L234.3 514.3 L234.5 512.4 L234.7 511.5 L235.0 511.1 L235.2 510.8 L235.4 510.7 L235.6 510.6 L235.9 511.1 L236.1 512.3 L236.3 514.0 L236.5 515.7 L236.8 517.7 L237.0 520.2 L237.2 522.9 L237.4 525.8 L237.7 529.0 L237.9 532.4 L238.1 536.1 L238.3 539.9 L238.6 544.0 L238.8 548.2 L239.0 552.6 L239.2 557.1 L239.5 561.7 L239.7 566.5 L239.9 571.3 L240.1 576.3 L240.3 581.3 L240.6 586.5 L240.8 591.7 L241.0 597.0 L241.2 602.3 L241.5 607.7 L241.7 613.1 L241.9 618.6 L242.1 624.1 L242.4 629.6 L242.6 635.1 L242.8 640.6 L243.0 646.2 L243.3 651.7 L243.5 657.2 L243.7 662.8 L243.9 668.3 L244.2 673.8 L244.4 679.3 L244.6 684.8 L244.8 690.3 L245.1 695.7 L245.3 701.2 L245.5 706.7 L245.7 712.1 L245.9 717.6 L246.2 723.0 L246.4 728.5 L246.6 733.9 L246.8 739.3 L247.1 744.7 L247.3 750.0 L247.5 755.4 L247.7 760.8 L248.0 766.1 L248.2 771.4 L248.4 776.8 L248.6 782.1 L248.9 787.3 L249.1 792.6 L249.3 797.9 L249.5 803.1 L249.8 808.3 L250.0 813.5 L250.2 818.7 L250.4 823.9 L250.7 829.0 L250.9 834.1 L251.1 839.2 L251.3 844.3 L251.5 849.4 L251.8 854.4 L252.0 859.4 L252.2 864.3 L252.4 869.2 L252.7 874.1 L252.9 879.0 L253.1 883.8 L253.3 888.6 L253.6 893.4 L253.8 898.1 L254.0 902.8 L254.2 907.4 L254.5 912.0 L254.7 916.5 L254.9 921.0 L255.1 925.5 L255.4 929.9 L255.6 934.2 L255.8 938.5 L256.0 942.8 L256.3 947.0 L256.5 951.1 L256.7 955.2 L256.9 959.2 L257.1 963.2 L257.4 967.1 L257.6 971.0 L257.8 974.7 L258.0 978.5 L258.3 982.1 L258.5 985.7 L258.7 989.2 L258.9 992.7 L259.2 996.1 L259.4 999.4 L259.6 1002.6 L259.8 1005.8 L260.1 1008.9 L260.3 1012.0 L260.5 1015.0 L260.7 1017.9 L261.0 1020.7 L261.2 1023.5 L261.4 1026.2 L261.6 1028.9 L261.9 1031.4 L262.1 1034.0 L262.3 1036.4 L262.5 1038.8 L262.8 1041.2 L263.0 1043.5 L263.2 1045.7 L263.4 1047.9 L263.6 1050.0 L263.9 1052.0 L264.1 1054.0 L264.3 1056.0 L264.5 1057.9 L264.8 1059.7 L265.0 1061.5 L265.2 1063.2 L265.4 1064.9 L265.7 1066.5 L265.9 1068.1 L266.1 1069.6 L266.3 1071.0 L266.6 1072.5 L266.8 1073.8 L267.0 1075.1 L267.2 1076.4 L267.5 1077.6 L267.7 1078.8 L267.9 1080.0 L268.1 1081.1 L268.4 1082.1 L268.6 1083.1 L268.8 1084.1 L269.0 1085.0 L269.2 1085.9 L269.5 1086.8 L269.7 1087.6 L269.9 1088.4 L270.1 1089.2 L270.4 1089.9 L270.6 1090.6 L270.8 1091.3 L271.0 1091.9 L271.3 1092.5 L271.5 1093.1 L271.7 1093.7 L271.9 1094.3 L272.2 1094.8 L272.4 1095.3 L272.6 1095.8 L272.8 1096.2 L273.1 1096.7 L273.3 1097.1 L273.5 1097.5 L273.7 1097.9 L274.0 1098.3 L274.2 1098.7 L274.4 1099.1 L274.6 1099.5 L274.8 1099.8 L275.1 1100.2 L275.3 1100.5 L275.5 1100.9 L275.7 1101.2 L276.0 1101.5 L276.2 1101.9 L276.4 1102.2 L276.6 1102.6 L276.9 1102.9 L277.1 1103.2 L277.3 1103.6 L277.5 1103.9 L277.8 1104.3 L278.0 1104.6 L278.2 1104.9 L278.4 1105.3 L278.7 1105.6 L278.9 1105.9 L279.1 1106.3 L279.3 1106.6 L279.6 1106.9 L279.8 1107.3 L280.0 1107.6 L280.2 1107.9 L280.4 1108.3 L280.7 1108.6 L280.9 1108.9 L281.1 1109.2 L281.3 1109.5 L281.6 1109.9 L281.8 1110.2 L282.0 1110.5 L282.2 1110.8 L282.5 1111.1 L282.7 1111.4 L282.9 1111.7 L283.1 1112.0 L283.4 1112.3 L283.6 1112.6 L283.8 1112.9 L284.0 1113.2 L284.3 1113.5 L284.5 1113.8 L284.7 1114.1 L284.9 1114.3 L285.2 1114.6 L285.4 1114.9 L285.6 1115.2 L285.8 1115.4 L286.1 1115.7 L286.3 1115.9 L286.5 1116.2 L286.7 1116.5"/>
</g>
<g id="inset-axes">
<rect class="ax" x="492.4" y="495.3" width="931.3" height="416.4" style="fill:#ffffff"/>
<path class="tick" d="M725.2 911.7 v-8.0 M725.2 495.3 v8.0 M958.0 911.7 v-8.0 M958.0 495.3 v8.0 M1190.9 911.7 v-8.0 M1190.9 495.3 v8.0 M492.4 722.9 h8.0 M1423.7 722.9 h-8.0 M492.4 534.2 h8.0 M1423.7 534.2 h-8.0"/>
<text class="tk" x="489.9" y="996.5" text-anchor="middle">0</text>
<text class="tk" x="722.7" y="996.5" text-anchor="middle">0.2</text>
<text class="tk" x="958.0" y="996.5" text-anchor="middle">0.4</text>
<text class="tk" x="1190.9" y="996.5" text-anchor="middle">0.6</text>
<text class="tk" x="1423.7" y="996.5" text-anchor="middle">0.8</text>
<text class="tk" x="469.0" y="937.0" text-anchor="end">0</text>
<text class="tk" x="471.0" y="746.4" text-anchor="end">50</text>
<text class="tk" x="471.5" y="556.2" text-anchor="end">100</text>
</g>
<g id="inset-curves" class="cv">
<path class="c ci r" style="stroke-width:14.0px" d="M492.4 495.7 L493.6 495.7 L494.7 495.7 L495.9 495.8 L497.1 495.8 L498.2 495.9 L499.4 496.0 L500.5 496.0 L501.7 496.1 L502.9 496.2 L504.0 496.3 L505.2 496.5 L506.4 496.6 L507.5 496.8 L508.7 497.0 L509.9 497.3 L511.0 497.6 L512.2 497.9 L513.4 498.2 L514.5 498.5 L515.7 498.8 L516.8 499.1 L518.0 499.4 L519.2 499.8 L520.3 500.2 L521.5 500.6 L522.7 501.1 L523.8 501.5 L525.0 502.0 L526.2 502.4 L527.3 502.9 L528.5 503.4 L529.7 503.9 L530.8 504.4 L532.0 505.0 L533.1 505.6 L534.3 506.2 L535.5 506.8 L536.6 507.4 L537.8 508.0 L539.0 508.6 L540.1 509.3 L541.3 509.9 L542.5 510.6 L543.6 511.3 L544.8 512.0 L545.9 512.7 L547.1 513.5 L548.3 514.2 L549.4 515.0 L550.6 515.8 L551.8 516.5 L552.9 517.3 L554.1 518.1 L555.3 519.0 L556.4 519.8 L557.6 520.7 L558.8 521.5 L559.9 522.4 L561.1 523.3 L562.2 524.2 L563.4 525.1 L564.6 526.0 L565.7 526.9 L566.9 527.8 L568.1 528.8 L569.2 529.8 L570.4 530.7 L571.6 531.7 L572.7 532.7 L573.9 533.7 L575.1 534.7 L576.2 535.7 L577.4 536.7 L578.5 537.8 L579.7 538.8 L580.9 539.9 L582.0 541.0 L583.2 542.0 L584.4 543.1 L585.5 544.2 L586.7 545.3 L587.9 546.4 L589.0 547.5 L590.2 548.6 L591.4 549.8 L592.5 550.9 L593.7 552.1 L594.8 553.2 L596.0 554.4 L597.2 555.6 L598.3 556.7 L599.5 557.9 L600.7 559.1 L601.8 560.3 L603.0 561.5 L604.2 562.7 L605.3 563.9 L606.5 565.1 L607.6 566.4 L608.8 567.6 L610.0 568.8 L611.1 570.1 L612.3 571.3 L613.5 572.6 L614.6 573.8 L615.8 575.1 L617.0 576.3 L618.1 577.6 L619.3 578.9 L620.5 580.2 L621.6 581.4 L622.8 582.7 L623.9 584.0 L625.1 585.3 L626.3 586.6 L627.4 587.9 L628.6 589.2 L629.8 590.5 L630.9 591.8 L632.1 593.1 L633.3 594.4 L634.4 595.7 L635.6 597.1 L636.8 598.4 L637.9 599.7 L639.1 601.0 L640.2 602.3 L641.4 603.7 L642.6 605.0 L643.7 606.3 L644.9 607.6 L646.1 609.0 L647.2 610.3 L648.4 611.6 L649.6 613.0 L650.7 614.3 L651.9 615.6 L653.0 617.0 L654.2 618.3 L655.4 619.6 L656.5 620.9 L657.7 622.3 L658.9 623.6 L660.0 624.9 L661.2 626.3 L662.4 627.6 L663.5 628.9 L664.7 630.2 L665.9 631.6 L667.0 632.9 L668.2 634.2 L669.3 635.5 L670.5 636.8 L671.7 638.2 L672.8 639.5 L674.0 640.8 L675.2 642.1 L676.3 643.4 L677.5 644.7 L678.7 646.0 L679.8 647.4 L681.0 648.7 L682.2 650.0 L683.3 651.3 L684.5 652.6 L685.6 653.9 L686.8 655.2 L688.0 656.5 L689.1 657.8 L690.3 659.1 L691.5 660.4 L692.6 661.7 L693.8 663.0 L695.0 664.3 L696.1 665.6 L697.3 666.9 L698.5 668.1 L699.6 669.4 L700.8 670.7 L701.9 672.0 L703.1 673.3 L704.3 674.6 L705.4 675.8 L706.6 677.1 L707.8 678.4 L708.9 679.7 L710.1 680.9 L711.3 682.2 L712.4 683.4 L713.6 684.7 L714.7 686.0 L715.9 687.2 L717.1 688.5 L718.2 689.7 L719.4 691.0 L720.6 692.2 L721.7 693.5 L722.9 694.7 L724.1 696.0 L725.2 697.2 L726.4 698.4 L727.6 699.7 L728.7 700.9 L729.9 702.1 L731.0 703.4 L732.2 704.6 L733.4 705.8 L734.5 707.0 L735.7 708.2 L736.9 709.5 L738.0 710.7 L739.2 711.9 L740.4 713.1 L741.5 714.3 L742.7 715.5 L743.9 716.7 L745.0 717.9 L746.2 719.1 L747.3 720.2 L748.5 721.4 L749.7 722.6 L750.8 723.8 L752.0 725.0 L753.2 726.1 L754.3 727.3 L755.5 728.5 L756.7 729.6 L757.8 730.8 L759.0 731.9 L760.1 733.1 L761.3 734.2 L762.5 735.4 L763.6 736.5 L764.8 737.6 L766.0 738.8 L767.1 739.9 L768.3 741.0 L769.5 742.2 L770.6 743.3 L771.8 744.4 L773.0 745.5 L774.1 746.6 L775.3 747.7 L776.4 748.8 L777.6 749.9 L778.8 751.0 L779.9 752.1 L781.1 753.2 L782.3 754.3 L783.4 755.3 L784.6 756.4 L785.8 757.5 L786.9 758.5 L788.1 759.6 L789.3 760.7 L790.4 761.7 L791.6 762.8 L792.7 763.8 L793.9 764.8 L795.1 765.9 L796.2 766.9 L797.4 767.9 L798.6 768.9 L799.7 770.0 L800.9 771.0 L802.1 772.0 L803.2 773.0 L804.4 774.0 L805.5 775.0 L806.7 776.0 L807.9 776.9 L809.0 777.9 L810.2 778.9 L811.4 779.9 L812.5 780.8 L813.7 781.8 L814.9 782.7 L816.0 783.7 L817.2 784.6 L818.4 785.6 L819.5 786.5 L820.7 787.4 L821.8 788.4 L823.0 789.3 L824.2 790.2 L825.3 791.1 L826.5 792.0 L827.7 792.9 L828.8 793.8 L830.0 794.7 L831.2 795.6 L832.3 796.5 L833.5 797.3 L834.7 798.2 L835.8 799.1 L837.0 799.9 L838.1 800.8 L839.3 801.6 L840.5 802.5 L841.6 803.3 L842.8 804.1 L844.0 804.9 L845.1 805.8 L846.3 806.6 L847.5 807.4 L848.6 808.2 L849.8 809.0 L851.0 809.8 L852.1 810.5 L853.3 811.3 L854.4 812.1 L855.6 812.9 L856.8 813.6 L857.9 814.4 L859.1 815.1 L860.3 815.9 L861.4 816.6 L862.6 817.4 L863.8 818.1 L864.9 818.8 L866.1 819.6 L867.2 820.3 L868.4 821.0 L869.6 821.7 L870.7 822.4 L871.9 823.1 L873.1 823.8 L874.2 824.5 L875.4 825.1 L876.6 825.8 L877.7 826.5 L878.9 827.2 L880.1 827.8 L881.2 828.5 L882.4 829.1 L883.5 829.8 L884.7 830.4 L885.9 831.1 L887.0 831.7 L888.2 832.3 L889.4 832.9 L890.5 833.6 L891.7 834.2 L892.9 834.8 L894.0 835.4 L895.2 836.0 L896.4 836.6 L897.5 837.2 L898.7 837.8 L899.8 838.4 L901.0 838.9 L902.2 839.5 L903.3 840.1 L904.5 840.6 L905.7 841.2 L906.8 841.7 L908.0 842.3 L909.2 842.8 L910.3 843.4 L911.5 843.9 L912.6 844.5 L913.8 845.0 L915.0 845.5 L916.1 846.0 L917.3 846.6 L918.5 847.1 L919.6 847.6 L920.8 848.1 L922.0 848.6 L923.1 849.1 L924.3 849.6 L925.5 850.0 L926.6 850.5 L927.8 851.0 L928.9 851.5 L930.1 852.0 L931.3 852.4 L932.4 852.9 L933.6 853.3 L934.8 853.8 L935.9 854.3 L937.1 854.7 L938.3 855.1 L939.4 855.6 L940.6 856.0 L941.8 856.5 L942.9 856.9 L944.1 857.3 L945.2 857.7 L946.4 858.1 L947.6 858.6 L948.7 859.0 L949.9 859.4 L951.1 859.8 L952.2 860.2 L953.4 860.6 L954.6 861.0 L955.7 861.4 L956.9 861.7 L958.0 862.1 L959.2 862.5 L960.4 862.9 L961.5 863.2 L962.7 863.6 L963.9 864.0 L965.0 864.3 L966.2 864.7 L967.4 865.0 L968.5 865.4 L969.7 865.7 L970.9 866.1 L972.0 866.4 L973.2 866.8 L974.3 867.1 L975.5 867.4 L976.7 867.8 L977.8 868.1 L979.0 868.4 L980.2 868.7 L981.3 869.0 L982.5 869.3 L983.7 869.6 L984.8 870.0 L986.0 870.3 L987.2 870.6 L988.3 870.9 L989.5 871.1 L990.6 871.4 L991.8 871.7 L993.0 872.0 L994.1 872.3 L995.3 872.6 L996.5 872.8 L997.6 873.1 L998.8 873.4 L1000.0 873.7 L1001.1 873.9 L1002.3 874.2 L1003.5 874.4 L1004.6 874.7 L1005.8 875.0 L1006.9 875.2 L1008.1 875.5 L1009.3 875.7 L1010.4 875.9 L1011.6 876.2 L1012.8 876.4 L1013.9 876.7 L1015.1 876.9 L1016.3 877.1 L1017.4 877.4 L1018.6 877.6 L1019.7 877.8 L1020.9 878.0 L1022.1 878.3 L1023.2 878.5 L1024.4 878.7 L1025.6 878.9 L1026.7 879.1 L1027.9 879.3 L1029.1 879.5 L1030.2 879.8 L1031.4 880.0 L1032.6 880.2 L1033.7 880.4 L1034.9 880.6 L1036.0 880.8 L1037.2 881.0 L1038.4 881.2 L1039.5 881.4 L1040.7 881.6 L1041.9 881.8 L1043.0 881.9 L1044.2 882.1 L1045.4 882.3 L1046.5 882.5 L1047.7 882.7 L1048.9 882.9 L1050.0 883.0 L1051.2 883.2 L1052.3 883.4 L1053.5 883.6 L1054.7 883.8 L1055.8 883.9 L1057.0 884.1 L1058.2 884.3 L1059.3 884.4 L1060.5 884.6 L1061.7 884.8 L1062.8 884.9 L1064.0 885.1 L1065.1 885.2 L1066.3 885.4 L1067.5 885.6 L1068.6 885.7 L1069.8 885.9 L1071.0 886.0 L1072.1 886.2 L1073.3 886.3 L1074.5 886.5 L1075.6 886.6 L1076.8 886.7 L1078.0 886.9 L1079.1 887.0 L1080.3 887.2 L1081.4 887.3 L1082.6 887.4 L1083.8 887.6 L1084.9 887.7 L1086.1 887.8 L1087.3 888.0 L1088.4 888.1 L1089.6 888.2 L1090.8 888.4 L1091.9 888.5 L1093.1 888.6 L1094.3 888.7 L1095.4 888.8 L1096.6 889.0 L1097.7 889.1 L1098.9 889.2 L1100.1 889.3 L1101.2 889.4 L1102.4 889.5 L1103.6 889.6 L1104.7 889.7 L1105.9 889.9 L1107.1 890.0 L1108.2 890.1 L1109.4 890.2 L1110.6 890.3 L1111.7 890.4 L1112.9 890.5 L1114.0 890.6 L1115.2 890.7 L1116.4 890.8 L1117.5 890.9 L1118.7 890.9 L1119.9 891.0 L1121.0 891.1 L1122.2 891.2 L1123.4 891.3 L1124.5 891.4 L1125.7 891.5 L1126.8 891.6 L1128.0 891.6 L1129.2 891.7 L1130.3 891.8 L1131.5 891.9 L1132.7 891.9 L1133.8 892.0 L1135.0 892.1 L1136.2 892.2 L1137.3 892.2 L1138.5 892.3 L1139.7 892.4 L1140.8 892.5 L1142.0 892.5 L1143.1 892.6 L1144.3 892.6 L1145.5 892.7 L1146.6 892.8 L1147.8 892.8 L1149.0 892.9 L1150.1 893.0 L1151.3 893.0 L1152.5 893.1 L1153.6 893.1 L1154.8 893.2 L1156.0 893.2 L1157.1 893.3 L1158.3 893.3 L1159.4 893.4 L1160.6 893.4 L1161.8 893.5 L1162.9 893.5 L1164.1 893.6 L1165.3 893.6 L1166.4 893.7 L1167.6 893.7 L1168.8 893.8 L1169.9 893.8 L1171.1 893.9 L1172.2 893.9 L1173.4 894.0 L1174.6 894.0 L1175.7 894.1 L1176.9 894.1 L1178.1 894.2 L1179.2 894.2 L1180.4 894.3 L1181.6 894.3 L1182.7 894.3 L1183.9 894.4 L1185.1 894.4 L1186.2 894.5 L1187.4 894.5 L1188.5 894.6 L1189.7 894.6 L1190.9 894.7 L1192.0 894.7 L1193.2 894.8 L1194.4 894.8 L1195.5 894.8 L1196.7 894.9 L1197.9 894.9 L1199.0 895.0 L1200.2 895.0 L1201.4 895.1 L1202.5 895.1 L1203.7 895.2 L1204.8 895.2 L1206.0 895.3 L1207.2 895.3 L1208.3 895.3 L1209.5 895.4 L1210.7 895.4 L1211.8 895.5 L1213.0 895.5 L1214.2 895.6 L1215.3 895.6 L1216.5 895.7 L1217.6 895.7 L1218.8 895.8 L1220.0 895.8 L1221.1 895.9 L1222.3 895.9 L1223.5 895.9 L1224.6 896.0 L1225.8 896.0 L1227.0 896.1 L1228.1 896.1 L1229.3 896.2 L1230.5 896.2 L1231.6 896.3 L1232.8 896.3 L1233.9 896.4 L1235.1 896.4 L1236.3 896.5 L1237.4 896.5 L1238.6 896.5 L1239.8 896.6 L1240.9 896.6 L1242.1 896.7 L1243.3 896.7 L1244.4 896.8 L1245.6 896.8 L1246.8 896.9 L1247.9 896.9 L1249.1 897.0 L1250.2 897.0 L1251.4 897.1 L1252.6 897.1 L1253.7 897.1 L1254.9 897.2 L1256.1 897.2 L1257.2 897.3 L1258.4 897.3 L1259.6 897.4 L1260.7 897.4 L1261.9 897.5 L1263.1 897.5 L1264.2 897.6 L1265.4 897.6 L1266.5 897.6 L1267.7 897.7 L1268.9 897.7 L1270.0 897.8 L1271.2 897.8 L1272.4 897.9 L1273.5 897.9 L1274.7 898.0 L1275.9 898.0 L1277.0 898.0 L1278.2 898.1 L1279.3 898.1 L1280.5 898.2 L1281.7 898.2 L1282.8 898.3 L1284.0 898.3 L1285.2 898.4 L1286.3 898.4 L1287.5 898.4 L1288.7 898.5 L1289.8 898.5 L1291.0 898.6 L1292.2 898.6 L1293.3 898.7 L1294.5 898.7 L1295.6 898.8 L1296.8 898.8 L1298.0 898.8 L1299.1 898.9 L1300.3 898.9 L1301.5 899.0 L1302.6 899.0 L1303.8 899.1 L1305.0 899.1 L1306.1 899.1 L1307.3 899.2 L1308.5 899.2 L1309.6 899.3 L1310.8 899.3 L1311.9 899.4 L1313.1 899.4 L1314.3 899.4 L1315.4 899.5 L1316.6 899.5 L1317.8 899.6 L1318.9 899.6 L1320.1 899.7 L1321.3 899.7 L1322.4 899.7 L1323.6 899.8 L1324.7 899.8 L1325.9 899.9 L1327.1 899.9 L1328.2 899.9 L1329.4 900.0 L1330.6 900.0 L1331.7 900.1 L1332.9 900.1 L1334.1 900.2 L1335.2 900.2 L1336.4 900.2 L1337.6 900.3 L1338.7 900.3 L1339.9 900.4 L1341.0 900.4 L1342.2 900.4 L1343.4 900.5 L1344.5 900.5 L1345.7 900.6 L1346.9 900.6 L1348.0 900.6 L1349.2 900.7 L1350.4 900.7 L1351.5 900.7 L1352.7 900.8 L1353.9 900.8 L1355.0 900.9 L1356.2 900.9 L1357.3 900.9 L1358.5 901.0 L1359.7 901.0 L1360.8 901.1 L1362.0 901.1 L1363.2 901.1 L1364.3 901.2 L1365.5 901.2 L1366.7 901.2 L1367.8 901.3 L1369.0 901.3 L1370.2 901.4 L1371.3 901.4 L1372.5 901.4 L1373.6 901.5 L1374.8 901.5 L1376.0 901.5 L1377.1 901.6 L1378.3 901.6 L1379.5 901.6 L1380.6 901.7 L1381.8 901.7 L1383.0 901.7 L1384.1 901.8 L1385.3 901.8 L1386.4 901.9 L1387.6 901.9 L1388.8 901.9 L1389.9 902.0 L1391.1 902.0 L1392.3 902.0 L1393.4 902.1 L1394.6 902.1 L1395.8 902.1 L1396.9 902.2 L1398.1 902.2 L1399.3 902.2 L1400.4 902.3 L1401.6 902.3 L1402.7 902.3 L1403.9 902.3 L1405.1 902.4 L1406.2 902.4 L1407.4 902.4 L1408.6 902.5 L1409.7 902.5 L1410.9 902.5 L1412.1 902.6 L1413.2 902.6 L1414.4 902.6 L1415.6 902.7 L1416.7 902.7 L1417.9 902.7 L1419.0 902.8 L1420.2 902.8 L1421.4 902.8 L1422.5 902.8 L1423.7 902.9"/>
<path class="c b" style="stroke-width:12.6;stroke-dashoffset:0.0" d="M492.4 911.7 L493.6 909.2 L494.7 906.8 L495.9 904.3 L497.1 901.9 L498.2 899.4 L499.4 897.0 L500.5 894.5 L501.7 892.1 L502.9 889.7 L504.0 887.2 L505.2 884.8"/>
<path class="c b" style="stroke-width:12.5;stroke-dashoffset:27.1" d="M504.0 887.2 L505.2 884.8 L506.4 882.4 L507.5 880.0 L508.7 877.6 L509.9 875.2 L511.0 872.8 L512.2 870.4 L513.4 868.1 L514.5 865.7 L515.7 863.3 L516.8 861.0"/>
<path class="c b" style="stroke-width:12.4;stroke-dashoffset:53.7" d="M515.7 863.3 L516.8 861.0 L518.0 858.6 L519.2 856.3 L520.3 853.9 L521.5 851.6 L522.7 849.2 L523.8 846.9 L525.0 844.6 L526.2 842.3 L527.3 840.0 L528.5 837.7"/>
<path class="c b" style="stroke-width:12.4;stroke-dashoffset:79.8" d="M527.3 840.0 L528.5 837.7 L529.7 835.3 L530.8 833.0 L532.0 830.7 L533.1 828.4 L534.3 826.1 L535.5 823.7 L536.6 821.4 L537.8 819.1 L539.0 816.8 L540.1 814.4 L541.3 812.1"/>
<path class="c b" style="stroke-width:12.3;stroke-dashoffset:108.3" d="M540.1 814.4 L541.3 812.1 L542.5 809.8 L543.6 807.5 L544.8 805.3 L545.9 803.0 L547.1 800.7 L548.3 798.5 L549.4 796.3 L550.6 794.0 L551.8 791.8 L552.9 789.7 L554.1 787.5"/>
<path class="c b" style="stroke-width:12.0;stroke-dashoffset:136.2" d="M552.9 789.7 L554.1 787.5 L555.3 785.4 L556.4 783.2 L557.6 781.1 L558.8 779.1 L559.9 777.0 L561.1 775.0 L562.2 773.0 L563.4 771.1 L564.6 769.1 L565.7 767.3 L566.9 765.4 L568.1 763.6"/>
<path class="c b" style="stroke-width:11.4;stroke-dashoffset:164.2" d="M566.9 765.4 L568.1 763.6 L569.2 761.8 L570.4 760.0 L571.6 758.3 L572.7 756.6 L573.9 754.9 L575.1 753.1 L576.2 751.4 L577.4 749.7 L578.5 748.0 L579.7 746.3 L580.9 744.6 L582.0 742.8 L583.2 741.0"/>
<path class="c b" style="stroke-width:11.6;stroke-dashoffset:191.4" d="M582.0 742.8 L583.2 741.0 L584.4 739.2 L585.5 737.4 L586.7 735.5 L587.9 733.7 L589.0 731.8 L590.2 729.9 L591.4 728.0 L592.5 726.2 L593.7 724.3 L594.8 722.4 L596.0 720.6 L597.2 718.8"/>
<path class="c b" style="stroke-width:11.0;stroke-dashoffset:217.7" d="M596.0 720.6 L597.2 718.8 L598.3 717.0 L599.5 715.3 L600.7 713.6 L601.8 711.9 L603.0 710.3 L604.2 708.7 L605.3 707.2 L606.5 705.7 L607.6 704.2 L608.8 702.7 L610.0 701.3 L611.1 699.8 L612.3 698.3 L613.5 696.9"/>
<path class="c b" style="stroke-width:10.9;stroke-dashoffset:245.3" d="M612.3 698.3 L613.5 696.9 L614.6 695.4 L615.8 693.9 L617.0 692.4 L618.1 690.8 L619.3 689.2 L620.5 687.6 L621.6 686.0 L622.8 684.3 L623.9 682.7 L625.1 681.0 L626.3 679.4 L627.4 677.8 L628.6 676.3 L629.8 674.8"/>
<path class="c b" style="stroke-width:9.5;stroke-dashoffset:272.7" d="M628.6 676.3 L629.8 674.8 L630.9 673.4 L632.1 672.1 L633.3 670.9 L634.4 669.7 L635.6 668.5 L636.8 667.3 L637.9 666.2 L639.1 665.2 L640.2 664.1 L641.4 663.1 L642.6 662.1 L643.7 661.1 L644.9 660.1 L646.1 659.2 L647.2 658.2 L648.4 657.3"/>
<path class="c b" style="stroke-width:10.8;stroke-dashoffset:298.7" d="M647.2 658.2 L648.4 657.3 L649.6 656.3 L650.7 655.4 L651.9 654.4 L653.0 653.4 L654.2 652.5 L655.4 651.5 L656.5 650.5 L657.7 649.5 L658.9 648.5 L660.0 647.6 L661.2 646.7 L662.4 645.8 L663.5 645.0 L664.7 644.2 L665.9 643.5 L667.0 642.9 L668.2 642.4 L669.3 641.9"/>
<path class="c b" style="stroke-width:14.1;stroke-dashoffset:325.1" d="M668.2 642.4 L669.3 641.9 L670.5 641.3 L671.7 640.8 L672.8 640.3 L674.0 639.8 L675.2 639.4 L676.3 639.0 L677.5 638.6 L678.7 638.3 L679.8 638.0 L681.0 637.8 L682.2 637.7 L683.3 637.6 L684.5 637.7 L685.6 637.8 L686.8 638.0 L688.0 638.2 L689.1 638.5 L690.3 638.9 L691.5 639.3 L692.6 639.7 L693.8 640.2 L695.0 640.7"/>
<path class="c b" style="stroke-width:12.9;stroke-dashoffset:351.9" d="M693.8 640.2 L695.0 640.7 L696.1 641.2 L697.3 641.8 L698.5 642.3 L699.6 642.9 L700.8 643.4 L701.9 643.9 L703.1 644.4 L704.3 644.9 L705.4 645.4 L706.6 645.8 L707.8 646.2 L708.9 646.7 L710.1 647.1 L711.3 647.5 L712.4 648.0 L713.6 648.4 L714.7 648.8 L715.9 649.3 L717.1 649.7 L718.2 650.2 L719.4 650.7"/>
<path class="c b" style="stroke-width:11.7;stroke-dashoffset:378.3" d="M718.2 650.2 L719.4 650.7 L720.6 651.2 L721.7 651.7 L722.9 652.2 L724.1 652.8 L725.2 653.3 L726.4 653.9 L727.6 654.5 L728.7 655.2 L729.9 655.9 L731.0 656.6 L732.2 657.4 L733.4 658.2 L734.5 659.1 L735.7 660.0 L736.9 661.0 L738.0 662.0 L739.2 663.0 L740.4 664.0 L741.5 665.0"/>
<path class="c b" style="stroke-width:10.5;stroke-dashoffset:404.5" d="M740.4 664.0 L741.5 665.0 L742.7 666.0 L743.9 667.0 L745.0 668.1 L746.2 669.1 L747.3 670.1 L748.5 671.1 L749.7 672.1 L750.8 673.0 L752.0 674.0 L753.2 674.9 L754.3 675.8 L755.5 676.6 L756.7 677.5 L757.8 678.4 L759.0 679.3 L760.1 680.2 L761.3 681.1 L762.5 681.9"/>
<path class="c b" style="stroke-width:10.8;stroke-dashoffset:431.6" d="M761.3 681.1 L762.5 681.9 L763.6 682.8 L764.8 683.7 L766.0 684.5 L767.1 685.4 L768.3 686.3 L769.5 687.1 L770.6 688.0 L771.8 688.9 L773.0 689.8 L774.1 690.6 L775.3 691.5 L776.4 692.4 L777.6 693.3 L778.8 694.2 L779.9 695.1 L781.1 696.0 L782.3 696.9 L783.4 697.8"/>
<path class="c b" style="stroke-width:10.7;stroke-dashoffset:457.9" d="M782.3 696.9 L783.4 697.8 L784.6 698.7 L785.8 699.6 L786.9 700.5 L788.1 701.4 L789.3 702.3 L790.4 703.2 L791.6 704.1 L792.7 705.0 L793.9 705.9 L795.1 706.8 L796.2 707.7 L797.4 708.6 L798.6 709.5 L799.7 710.4 L800.9 711.3 L802.1 712.2 L803.2 713.1 L804.4 714.0"/>
<path class="c b" style="stroke-width:10.7;stroke-dashoffset:484.4" d="M803.2 713.1 L804.4 714.0 L805.5 714.9 L806.7 715.8 L807.9 716.7 L809.0 717.6 L810.2 718.5 L811.4 719.4 L812.5 720.3 L813.7 721.2 L814.9 722.1 L816.0 723.0 L817.2 723.9 L818.4 724.8 L819.5 725.7 L820.7 726.6 L821.8 727.5 L823.0 728.4 L824.2 729.3 L825.3 730.2"/>
<path class="c b" style="stroke-width:10.6;stroke-dashoffset:510.8" d="M824.2 729.3 L825.3 730.2 L826.5 731.1 L827.7 732.0 L828.8 732.9 L830.0 733.8 L831.2 734.8 L832.3 735.7 L833.5 736.6 L834.7 737.5 L835.8 738.4 L837.0 739.3 L838.1 740.2 L839.3 741.2 L840.5 742.1 L841.6 743.0 L842.8 743.9 L844.0 744.8 L845.1 745.7 L846.3 746.7"/>
<path class="c b" style="stroke-width:10.6;stroke-dashoffset:537.5" d="M845.1 745.7 L846.3 746.7 L847.5 747.6 L848.6 748.5 L849.8 749.4 L851.0 750.4 L852.1 751.3 L853.3 752.2 L854.4 753.1 L855.6 754.0 L856.8 755.0 L857.9 755.9 L859.1 756.8 L860.3 757.7 L861.4 758.6 L862.6 759.5 L863.8 760.4 L864.9 761.3 L866.1 762.2 L867.2 763.1"/>
<path class="c b" style="stroke-width:10.8;stroke-dashoffset:564.1" d="M866.1 762.2 L867.2 763.1 L868.4 764.0 L869.6 764.9 L870.7 765.8 L871.9 766.7 L873.1 767.5 L874.2 768.4 L875.4 769.3 L876.6 770.2 L877.7 771.0 L878.9 771.9 L880.1 772.8 L881.2 773.7 L882.4 774.5 L883.5 775.4 L884.7 776.3 L885.9 777.1 L887.0 778.0 L888.2 778.9"/>
<path class="c b" style="stroke-width:10.9;stroke-dashoffset:590.4" d="M887.0 778.0 L888.2 778.9 L889.4 779.7 L890.5 780.6 L891.7 781.5 L892.9 782.3 L894.0 783.2 L895.2 784.0 L896.4 784.9 L897.5 785.7 L898.7 786.6 L899.8 787.5 L901.0 788.3 L902.2 789.2 L903.3 790.0 L904.5 790.9 L905.7 791.8 L906.8 792.6 L908.0 793.5 L909.2 794.4"/>
<path class="c b" style="stroke-width:10.7;stroke-dashoffset:616.4" d="M908.0 793.5 L909.2 794.4 L910.3 795.3 L911.5 796.2 L912.6 797.1 L913.8 798.0 L915.0 798.9 L916.1 799.9 L917.3 800.8 L918.5 801.7 L919.6 802.6 L920.8 803.6 L922.0 804.5 L923.1 805.4 L924.3 806.2 L925.5 807.1 L926.6 808.0 L927.8 808.8 L928.9 809.6 L930.1 810.4"/>
<path class="c b" style="stroke-width:12.0;stroke-dashoffset:642.9" d="M928.9 809.6 L930.1 810.4 L931.3 811.2 L932.4 812.0 L933.6 812.7 L934.8 813.4 L935.9 814.1 L937.1 814.8 L938.3 815.5 L939.4 816.1 L940.6 816.8 L941.8 817.4 L942.9 818.1 L944.1 818.7 L945.2 819.3 L946.4 820.0 L947.6 820.6 L948.7 821.2 L949.9 821.8 L951.1 822.4 L952.2 823.0 L953.4 823.7"/>
<path class="c b" style="stroke-width:12.1;stroke-dashoffset:669.8" d="M952.2 823.0 L953.4 823.7 L954.6 824.3 L955.7 824.9 L956.9 825.5 L958.0 826.2 L959.2 826.8 L960.4 827.5 L961.5 828.1 L962.7 828.8 L963.9 829.4 L965.0 830.1 L966.2 830.7 L967.4 831.4 L968.5 832.0 L969.7 832.7 L970.9 833.3 L972.0 833.9 L973.2 834.6 L974.3 835.2 L975.5 835.9 L976.7 836.5"/>
<path class="c b" style="stroke-width:12.2;stroke-dashoffset:696.3" d="M975.5 835.9 L976.7 836.5 L977.8 837.1 L979.0 837.8 L980.2 838.4 L981.3 839.0 L982.5 839.7 L983.7 840.3 L984.8 840.9 L986.0 841.5 L987.2 842.2 L988.3 842.8 L989.5 843.4 L990.6 844.0 L991.8 844.6 L993.0 845.2 L994.1 845.9 L995.3 846.5 L996.5 847.1 L997.6 847.7 L998.8 848.3 L1000.0 848.9"/>
<path class="c b" style="stroke-width:12.2;stroke-dashoffset:722.7" d="M998.8 848.3 L1000.0 848.9 L1001.1 849.5 L1002.3 850.1 L1003.5 850.7 L1004.6 851.3 L1005.8 852.0 L1006.9 852.6 L1008.1 853.2 L1009.3 853.8 L1010.4 854.5 L1011.6 855.1 L1012.8 855.7 L1013.9 856.4 L1015.1 857.0 L1016.3 857.6 L1017.4 858.3 L1018.6 858.9 L1019.7 859.5 L1020.9 860.1 L1022.1 860.7 L1023.2 861.3"/>
<path class="c b" style="stroke-width:12.9;stroke-dashoffset:749.1" d="M1022.1 860.7 L1023.2 861.3 L1024.4 861.9 L1025.6 862.4 L1026.7 863.0 L1027.9 863.5 L1029.1 864.1 L1030.2 864.6 L1031.4 865.1 L1032.6 865.6 L1033.7 866.0 L1034.9 866.5 L1036.0 867.0 L1037.2 867.4 L1038.4 867.8 L1039.5 868.3 L1040.7 868.7 L1041.9 869.1 L1043.0 869.5 L1044.2 870.0 L1045.4 870.4 L1046.5 870.8 L1047.7 871.2"/>
<path class="c b" style="stroke-width:13.4;stroke-dashoffset:775.6" d="M1046.5 870.8 L1047.7 871.2 L1048.9 871.5 L1050.0 871.9 L1051.2 872.3 L1052.3 872.7 L1053.5 873.1 L1054.7 873.4 L1055.8 873.8 L1057.0 874.2 L1058.2 874.5 L1059.3 874.9 L1060.5 875.2 L1061.7 875.6 L1062.8 876.0 L1064.0 876.3 L1065.1 876.7 L1066.3 877.0 L1067.5 877.4 L1068.6 877.8 L1069.8 878.1 L1071.0 878.5 L1072.1 878.8 L1073.3 879.2"/>
<path class="c b" style="stroke-width:13.8;stroke-dashoffset:802.4" d="M1072.1 878.8 L1073.3 879.2 L1074.5 879.5 L1075.6 879.8 L1076.8 880.2 L1078.0 880.5 L1079.1 880.8 L1080.3 881.1 L1081.4 881.4 L1082.6 881.7 L1083.8 882.0 L1084.9 882.2 L1086.1 882.5 L1087.3 882.7 L1088.4 882.9 L1089.6 883.1 L1090.8 883.3 L1091.9 883.5 L1093.1 883.7 L1094.3 883.9 L1095.4 884.1 L1096.6 884.3 L1097.7 884.5 L1098.9 884.6"/>
<path class="c b" style="stroke-width:14.1;stroke-dashoffset:828.7" d="M1097.7 884.5 L1098.9 884.6 L1100.1 884.8 L1101.2 885.0 L1102.4 885.2 L1103.6 885.3 L1104.7 885.5 L1105.9 885.7 L1107.1 885.8 L1108.2 886.0 L1109.4 886.1 L1110.6 886.3 L1111.7 886.4 L1112.9 886.6 L1114.0 886.7 L1115.2 886.8 L1116.4 887.0 L1117.5 887.1 L1118.7 887.2 L1119.9 887.4 L1121.0 887.5 L1122.2 887.6 L1123.4 887.8 L1124.5 887.9 L1125.7 888.0"/>
<path class="c b" style="stroke-width:14.1;stroke-dashoffset:855.7" d="M1124.5 887.9 L1125.7 888.0 L1126.8 888.1 L1128.0 888.2 L1129.2 888.4 L1130.3 888.5 L1131.5 888.6 L1132.7 888.7 L1133.8 888.8 L1135.0 888.9 L1136.2 889.1 L1137.3 889.2 L1138.5 889.3 L1139.7 889.4 L1140.8 889.5 L1142.0 889.6 L1143.1 889.7 L1144.3 889.8 L1145.5 889.9 L1146.6 890.0 L1147.8 890.1 L1149.0 890.2 L1150.1 890.3 L1151.3 890.5 L1152.5 890.6"/>
<path class="c b" style="stroke-width:14.2;stroke-dashoffset:882.6" d="M1151.3 890.5 L1152.5 890.6 L1153.6 890.7 L1154.8 890.8 L1156.0 890.9 L1157.1 890.9 L1158.3 891.0 L1159.4 891.1 L1160.6 891.2 L1161.8 891.3 L1162.9 891.4 L1164.1 891.5 L1165.3 891.6 L1166.4 891.7 L1167.6 891.7 L1168.8 891.8 L1169.9 891.9 L1171.1 892.0 L1172.2 892.1 L1173.4 892.1 L1174.6 892.2 L1175.7 892.3 L1176.9 892.3 L1178.1 892.4 L1179.2 892.5"/>
<path class="c b" style="stroke-width:14.2;stroke-dashoffset:909.4" d="M1178.1 892.4 L1179.2 892.5 L1180.4 892.5 L1181.6 892.6 L1182.7 892.6 L1183.9 892.7 L1185.1 892.7 L1186.2 892.8 L1187.4 892.9 L1188.5 892.9 L1189.7 893.0 L1190.9 893.0 L1192.0 893.1 L1193.2 893.1 L1194.4 893.2 L1195.5 893.3 L1196.7 893.3 L1197.9 893.4 L1199.0 893.4 L1200.2 893.5 L1201.4 893.5 L1202.5 893.6 L1203.7 893.7 L1204.8 893.7 L1206.0 893.8"/>
<path class="c b" style="stroke-width:14.2;stroke-dashoffset:936.2" d="M1204.8 893.7 L1206.0 893.8 L1207.2 893.8 L1208.3 893.9 L1209.5 894.0 L1210.7 894.0 L1211.8 894.1 L1213.0 894.1 L1214.2 894.2 L1215.3 894.3 L1216.5 894.3 L1217.6 894.4 L1218.8 894.4 L1220.0 894.5 L1221.1 894.5 L1222.3 894.6 L1223.5 894.7 L1224.6 894.7 L1225.8 894.8 L1227.0 894.8 L1228.1 894.9 L1229.3 894.9 L1230.5 895.0 L1231.6 895.0 L1232.8 895.1"/>
<path class="c b" style="stroke-width:14.2;stroke-dashoffset:963.0" d="M1231.6 895.0 L1232.8 895.1 L1233.9 895.1 L1235.1 895.2 L1236.3 895.2 L1237.4 895.3 L1238.6 895.3 L1239.8 895.4 L1240.9 895.4 L1242.1 895.5 L1243.3 895.5 L1244.4 895.6 L1245.6 895.6 L1246.8 895.7 L1247.9 895.7 L1249.1 895.8 L1250.2 895.8 L1251.4 895.9 L1252.6 895.9 L1253.7 896.0 L1254.9 896.0 L1256.1 896.1 L1257.2 896.1 L1258.4 896.1 L1259.6 896.2"/>
<path class="c b" style="stroke-width:14.2;stroke-dashoffset:989.8" d="M1258.4 896.1 L1259.6 896.2 L1260.7 896.2 L1261.9 896.3 L1263.1 896.3 L1264.2 896.4 L1265.4 896.4 L1266.5 896.5 L1267.7 896.5 L1268.9 896.5 L1270.0 896.6 L1271.2 896.6 L1272.4 896.7 L1273.5 896.7 L1274.7 896.8 L1275.9 896.8 L1277.0 896.8 L1278.2 896.9 L1279.3 896.9 L1280.5 897.0 L1281.7 897.0 L1282.8 897.1 L1284.0 897.1 L1285.2 897.1 L1286.3 897.2"/>
<path class="c b" style="stroke-width:14.2;stroke-dashoffset:1016.6" d="M1285.2 897.1 L1286.3 897.2 L1287.5 897.2 L1288.7 897.3 L1289.8 897.3 L1291.0 897.3 L1292.2 897.4 L1293.3 897.4 L1294.5 897.5 L1295.6 897.5 L1296.8 897.6 L1298.0 897.6 L1299.1 897.6 L1300.3 897.7 L1301.5 897.7 L1302.6 897.8 L1303.8 897.8 L1305.0 897.8 L1306.1 897.9 L1307.3 897.9 L1308.5 898.0 L1309.6 898.0 L1310.8 898.1 L1311.9 898.1 L1313.1 898.1"/>
<path class="c b" style="stroke-width:14.2;stroke-dashoffset:1043.4" d="M1311.9 898.1 L1313.1 898.1 L1314.3 898.2 L1315.4 898.2 L1316.6 898.3 L1317.8 898.3 L1318.9 898.4 L1320.1 898.4 L1321.3 898.4 L1322.4 898.5 L1323.6 898.5 L1324.7 898.6 L1325.9 898.6 L1327.1 898.7 L1328.2 898.7 L1329.4 898.7 L1330.6 898.8 L1331.7 898.8 L1332.9 898.9 L1334.1 898.9 L1335.2 899.0 L1336.4 899.0 L1337.6 899.0 L1338.7 899.1 L1339.9 899.1"/>
<path class="c b" style="stroke-width:14.2;stroke-dashoffset:1070.2" d="M1338.7 899.1 L1339.9 899.1 L1341.0 899.2 L1342.2 899.2 L1343.4 899.2 L1344.5 899.3 L1345.7 899.3 L1346.9 899.4 L1348.0 899.4 L1349.2 899.4 L1350.4 899.5 L1351.5 899.5 L1352.7 899.6 L1353.9 899.6 L1355.0 899.6 L1356.2 899.7 L1357.3 899.7 L1358.5 899.7 L1359.7 899.8 L1360.8 899.8 L1362.0 899.9 L1363.2 899.9 L1364.3 899.9 L1365.5 900.0 L1366.7 900.0"/>
<path class="c b" style="stroke-width:14.2;stroke-dashoffset:1097.0" d="M1365.5 900.0 L1366.7 900.0 L1367.8 900.0 L1369.0 900.1 L1370.2 900.1 L1371.3 900.1 L1372.5 900.2 L1373.6 900.2 L1374.8 900.2 L1376.0 900.3 L1377.1 900.3 L1378.3 900.3 L1379.5 900.4 L1380.6 900.4 L1381.8 900.4 L1383.0 900.4 L1384.1 900.5 L1385.3 900.5 L1386.4 900.5 L1387.6 900.6 L1388.8 900.6 L1389.9 900.6 L1391.1 900.6 L1392.3 900.7 L1393.4 900.7"/>
<path class="c b" style="stroke-width:14.2;stroke-dashoffset:1123.8" d="M1392.3 900.7 L1393.4 900.7 L1394.6 900.7 L1395.8 900.8 L1396.9 900.8 L1398.1 900.8 L1399.3 900.8 L1400.4 900.9 L1401.6 900.9 L1402.7 900.9 L1403.9 900.9 L1405.1 901.0 L1406.2 901.0 L1407.4 901.0 L1408.6 901.0 L1409.7 901.1 L1410.9 901.1 L1412.1 901.1 L1413.2 901.1 L1414.4 901.2 L1415.6 901.2 L1416.7 901.2 L1417.9 901.2 L1419.0 901.2 L1420.2 901.3"/>
<path class="c b" style="stroke-width:14.2;stroke-dashoffset:1150.6" d="M1419.0 901.2 L1420.2 901.3 L1421.4 901.3 L1422.5 901.3 L1423.7 901.3"/>
<path class="c g" style="stroke-width:11.9;stroke-dashoffset:0.0" d="M488.9 866.8 L492.4 860.7 L493.6 858.7 L494.7 856.7 L495.9 854.7 L497.1 852.7 L498.2 850.7 L499.4 848.7 L500.5 846.7 L501.7 844.8 L502.9 842.8 L504.0 840.8"/>
<path class="c g" style="stroke-width:11.9;stroke-dashoffset:27.8" d="M502.9 842.8 L504.0 840.8 L505.2 838.8 L506.4 836.8 L507.5 834.8 L508.7 832.8 L509.9 830.8 L511.0 828.8 L512.2 826.8 L513.4 824.8 L514.5 822.8 L515.7 820.8 L516.8 818.8 L518.0 816.8"/>
<path class="c g" style="stroke-width:11.9;stroke-dashoffset:55.6" d="M516.8 818.8 L518.0 816.8 L519.2 814.8 L520.3 812.7 L521.5 810.7 L522.7 808.7 L523.8 806.7 L525.0 804.7 L526.2 802.7 L527.3 800.7 L528.5 798.7 L529.7 796.7 L530.8 794.7 L532.0 792.7"/>
<path class="c g" style="stroke-width:11.8;stroke-dashoffset:83.4" d="M530.8 794.7 L532.0 792.7 L533.1 790.7 L534.3 788.8 L535.5 786.8 L536.6 784.8 L537.8 782.9 L539.0 781.0 L540.1 779.0 L541.3 777.1 L542.5 775.2 L543.6 773.3 L544.8 771.5 L545.9 769.6"/>
<path class="c g" style="stroke-width:11.6;stroke-dashoffset:110.5" d="M544.8 771.5 L545.9 769.6 L547.1 767.7 L548.3 765.9 L549.4 764.0 L550.6 762.2 L551.8 760.3 L552.9 758.5 L554.1 756.7 L555.3 754.9 L556.4 753.1 L557.6 751.3 L558.8 749.5 L559.9 747.7"/>
<path class="c g" style="stroke-width:11.4;stroke-dashoffset:136.5" d="M558.8 749.5 L559.9 747.7 L561.1 745.9 L562.2 744.2 L563.4 742.4 L564.6 740.6 L565.7 738.9 L566.9 737.1 L568.1 735.4 L569.2 733.6 L570.4 731.9 L571.6 730.1 L572.7 728.4 L573.9 726.7 L575.1 725.0"/>
<path class="c g" style="stroke-width:11.2;stroke-dashoffset:163.9" d="M573.9 726.7 L575.1 725.0 L576.2 723.3 L577.4 721.6 L578.5 719.9 L579.7 718.2 L580.9 716.5 L582.0 714.9 L583.2 713.2 L584.4 711.6 L585.5 710.0 L586.7 708.4 L587.9 706.8 L589.0 705.2 L590.2 703.6"/>
<path class="c g" style="stroke-width:10.6;stroke-dashoffset:190.2" d="M589.0 705.2 L590.2 703.6 L591.4 702.0 L592.5 700.5 L593.7 698.9 L594.8 697.4 L596.0 695.9 L597.2 694.4 L598.3 692.9 L599.5 691.5 L600.7 690.0 L601.8 688.6 L603.0 687.2 L604.2 685.8 L605.3 684.4 L606.5 683.1"/>
<path class="c g" style="stroke-width:9.5;stroke-dashoffset:216.6" d="M605.3 684.4 L606.5 683.1 L607.6 681.8 L608.8 680.5 L610.0 679.2 L611.1 677.9 L612.3 676.7 L613.5 675.4 L614.6 674.2 L615.8 673.0 L617.0 671.9 L618.1 670.7 L619.3 669.6 L620.5 668.6 L621.6 667.5 L622.8 666.5 L623.9 665.5 L625.1 664.5"/>
<path class="c g" style="stroke-width:11.7;stroke-dashoffset:243.2" d="M623.9 665.5 L625.1 664.5 L626.3 663.5 L627.4 662.6 L628.6 661.7 L629.8 660.8 L630.9 660.0 L632.1 659.2 L633.3 658.4 L634.4 657.7 L635.6 657.0 L636.8 656.3 L637.9 655.6 L639.1 654.9 L640.2 654.3 L641.4 653.8 L642.6 653.3 L643.7 652.8 L644.9 652.4 L646.1 651.9 L647.2 651.5"/>
<path class="c g" style="stroke-width:14.2;stroke-dashoffset:269.3" d="M646.1 651.9 L647.2 651.5 L648.4 651.1 L649.6 650.7 L650.7 650.4 L651.9 650.1 L653.0 649.9 L654.2 649.7 L655.4 649.6 L656.5 649.5 L657.7 649.5 L658.9 649.4 L660.0 649.4 L661.2 649.3 L662.4 649.3 L663.5 649.3 L664.7 649.2 L665.9 649.2 L667.0 649.2 L668.2 649.3 L669.3 649.4 L670.5 649.5 L671.7 649.7 L672.8 649.9 L674.0 650.2"/>
<path class="c g" style="stroke-width:13.2;stroke-dashoffset:296.5" d="M672.8 649.9 L674.0 650.2 L675.2 650.5 L676.3 650.8 L677.5 651.1 L678.7 651.3 L679.8 651.6 L681.0 652.0 L682.2 652.3 L683.3 652.7 L684.5 653.2 L685.6 653.6 L686.8 654.1 L688.0 654.5 L689.1 655.0 L690.3 655.5 L691.5 656.0 L692.6 656.5 L693.8 657.1 L695.0 657.6 L696.1 658.2 L697.3 658.8 L698.5 659.4"/>
<path class="c g" style="stroke-width:11.7;stroke-dashoffset:322.6" d="M697.3 658.8 L698.5 659.4 L699.6 660.0 L700.8 660.7 L701.9 661.3 L703.1 662.0 L704.3 662.6 L705.4 663.3 L706.6 664.0 L707.8 664.7 L708.9 665.4 L710.1 666.1 L711.3 666.9 L712.4 667.6 L713.6 668.4 L714.7 669.1 L715.9 669.9 L717.1 670.7 L718.2 671.4 L719.4 672.2 L720.6 673.0 L721.7 673.8"/>
<path class="c g" style="stroke-width:11.0;stroke-dashoffset:349.9" d="M720.6 673.0 L721.7 673.8 L722.9 674.6 L724.1 675.5 L725.2 676.3 L726.4 677.1 L727.6 677.9 L728.7 678.8 L729.9 679.6 L731.0 680.5 L732.2 681.3 L733.4 682.2 L734.5 683.1 L735.7 683.9 L736.9 684.8 L738.0 685.7 L739.2 686.5 L740.4 687.4 L741.5 688.3 L742.7 689.2 L743.9 690.1"/>
<path class="c g" style="stroke-width:10.7;stroke-dashoffset:377.3" d="M742.7 689.2 L743.9 690.1 L745.0 691.0 L746.2 691.9 L747.3 692.8 L748.5 693.7 L749.7 694.6 L750.8 695.5 L752.0 696.4 L753.2 697.3 L754.3 698.2 L755.5 699.1 L756.7 700.0 L757.8 701.0 L759.0 701.9 L760.1 702.8 L761.3 703.7 L762.5 704.6 L763.6 705.5 L764.8 706.4"/>
<path class="c g" style="stroke-width:10.7;stroke-dashoffset:403.8" d="M763.6 705.5 L764.8 706.4 L766.0 707.3 L767.1 708.2 L768.3 709.2 L769.5 710.1 L770.6 711.0 L771.8 711.9 L773.0 712.8 L774.1 713.7 L775.3 714.6 L776.4 715.5 L777.6 716.4 L778.8 717.3 L779.9 718.2 L781.1 719.1 L782.3 720.1 L783.4 721.0 L784.6 721.9 L785.8 722.8"/>
<path class="c g" style="stroke-width:10.7;stroke-dashoffset:430.4" d="M784.6 721.9 L785.8 722.8 L786.9 723.7 L788.1 724.6 L789.3 725.5 L790.4 726.4 L791.6 727.3 L792.7 728.2 L793.9 729.1 L795.1 730.0 L796.2 730.9 L797.4 731.8 L798.6 732.7 L799.7 733.6 L800.9 734.5 L802.1 735.4 L803.2 736.3 L804.4 737.2 L805.5 738.0 L806.7 738.9"/>
<path class="c g" style="stroke-width:10.8;stroke-dashoffset:456.9" d="M805.5 738.0 L806.7 738.9 L807.9 739.8 L809.0 740.7 L810.2 741.6 L811.4 742.5 L812.5 743.4 L813.7 744.3 L814.9 745.2 L816.0 746.1 L817.2 746.9 L818.4 747.8 L819.5 748.7 L820.7 749.6 L821.8 750.5 L823.0 751.4 L824.2 752.3 L825.3 753.1 L826.5 754.0 L827.7 754.9"/>
<path class="c g" style="stroke-width:10.9;stroke-dashoffset:483.2" d="M826.5 754.0 L827.7 754.9 L828.8 755.8 L830.0 756.6 L831.2 757.5 L832.3 758.4 L833.5 759.3 L834.7 760.1 L835.8 761.0 L837.0 761.9 L838.1 762.8 L839.3 763.6 L840.5 764.5 L841.6 765.4 L842.8 766.2 L844.0 767.1 L845.1 768.0 L846.3 768.8 L847.5 769.7 L848.6 770.5"/>
<path class="c g" style="stroke-width:11.0;stroke-dashoffset:509.4" d="M847.5 769.7 L848.6 770.5 L849.8 771.4 L851.0 772.3 L852.1 773.1 L853.3 774.0 L854.4 774.8 L855.6 775.7 L856.8 776.5 L857.9 777.4 L859.1 778.2 L860.3 779.1 L861.4 779.9 L862.6 780.8 L863.8 781.6 L864.9 782.5 L866.1 783.3 L867.2 784.1 L868.4 785.0 L869.6 785.8 L870.7 786.7"/>
<path class="c g" style="stroke-width:11.2;stroke-dashoffset:536.8" d="M869.6 785.8 L870.7 786.7 L871.9 787.5 L873.1 788.3 L874.2 789.1 L875.4 790.0 L876.6 790.8 L877.7 791.6 L878.9 792.4 L880.1 793.3 L881.2 794.1 L882.4 794.9 L883.5 795.7 L884.7 796.5 L885.9 797.3 L887.0 798.1 L888.2 798.9 L889.4 799.7 L890.5 800.5 L891.7 801.3 L892.9 802.1"/>
<path class="c g" style="stroke-width:11.4;stroke-dashoffset:563.8" d="M891.7 801.3 L892.9 802.1 L894.0 802.9 L895.2 803.7 L896.4 804.5 L897.5 805.3 L898.7 806.1 L899.8 806.9 L901.0 807.6 L902.2 808.4 L903.3 809.2 L904.5 810.0 L905.7 810.7 L906.8 811.5 L908.0 812.2 L909.2 813.0 L910.3 813.8 L911.5 814.5 L912.6 815.3 L913.8 816.0 L915.0 816.8"/>
<path class="c g" style="stroke-width:11.7;stroke-dashoffset:590.3" d="M913.8 816.0 L915.0 816.8 L916.1 817.5 L917.3 818.2 L918.5 819.0 L919.6 819.7 L920.8 820.4 L922.0 821.2 L923.1 821.9 L924.3 822.6 L925.5 823.3 L926.6 824.0 L927.8 824.7 L928.9 825.5 L930.1 826.2 L931.3 826.9 L932.4 827.5 L933.6 828.2 L934.8 828.9 L935.9 829.6 L937.1 830.3 L938.3 831.0"/>
<path class="c g" style="stroke-width:12.1;stroke-dashoffset:617.6" d="M937.1 830.3 L938.3 831.0 L939.4 831.6 L940.6 832.3 L941.8 833.0 L942.9 833.6 L944.1 834.3 L945.2 835.0 L946.4 835.6 L947.6 836.3 L948.7 836.9 L949.9 837.5 L951.1 838.2 L952.2 838.8 L953.4 839.4 L954.6 840.1 L955.7 840.7 L956.9 841.3 L958.0 841.9 L959.2 842.5 L960.4 843.1 L961.5 843.7"/>
<path class="c g" style="stroke-width:12.6;stroke-dashoffset:644.2" d="M960.4 843.1 L961.5 843.7 L962.7 844.3 L963.9 844.9 L965.0 845.5 L966.2 846.1 L967.4 846.6 L968.5 847.2 L969.7 847.8 L970.9 848.3 L972.0 848.9 L973.2 849.4 L974.3 850.0 L975.5 850.5 L976.7 851.1 L977.8 851.6 L979.0 852.1 L980.2 852.6 L981.3 853.2 L982.5 853.7 L983.7 854.2 L984.8 854.7 L986.0 855.2"/>
<path class="c g" style="stroke-width:13.0;stroke-dashoffset:671.3" d="M984.8 854.7 L986.0 855.2 L987.2 855.7 L988.3 856.2 L989.5 856.7 L990.6 857.2 L991.8 857.6 L993.0 858.1 L994.1 858.6 L995.3 859.1 L996.5 859.5 L997.6 860.0 L998.8 860.4 L1000.0 860.9 L1001.1 861.3 L1002.3 861.8 L1003.5 862.2 L1004.6 862.7 L1005.8 863.1 L1006.9 863.5 L1008.1 863.9 L1009.3 864.3 L1010.4 864.8"/>
<path class="c g" style="stroke-width:13.4;stroke-dashoffset:697.6" d="M1009.3 864.3 L1010.4 864.8 L1011.6 865.2 L1012.8 865.6 L1013.9 866.0 L1015.1 866.4 L1016.3 866.8 L1017.4 867.2 L1018.6 867.5 L1019.7 867.9 L1020.9 868.3 L1022.1 868.7 L1023.2 869.0 L1024.4 869.4 L1025.6 869.8 L1026.7 870.1 L1027.9 870.5 L1029.1 870.8 L1030.2 871.1 L1031.4 871.5 L1032.6 871.8 L1033.7 872.1 L1034.9 872.5 L1036.0 872.8"/>
<path class="c g" style="stroke-width:13.7;stroke-dashoffset:724.4" d="M1034.9 872.5 L1036.0 872.8 L1037.2 873.1 L1038.4 873.4 L1039.5 873.7 L1040.7 874.0 L1041.9 874.3 L1043.0 874.6 L1044.2 874.9 L1045.4 875.2 L1046.5 875.5 L1047.7 875.8 L1048.9 876.1 L1050.0 876.3 L1051.2 876.6 L1052.3 876.9 L1053.5 877.1 L1054.7 877.4 L1055.8 877.6 L1057.0 877.9 L1058.2 878.1 L1059.3 878.4 L1060.5 878.6 L1061.7 878.9"/>
<path class="c g" style="stroke-width:13.9;stroke-dashoffset:750.8" d="M1060.5 878.6 L1061.7 878.9 L1062.8 879.1 L1064.0 879.3 L1065.1 879.6 L1066.3 879.8 L1067.5 880.0 L1068.6 880.2 L1069.8 880.4 L1071.0 880.7 L1072.1 880.9 L1073.3 881.1 L1074.5 881.3 L1075.6 881.5 L1076.8 881.7 L1078.0 881.8 L1079.1 882.0 L1080.3 882.2 L1081.4 882.4 L1082.6 882.6 L1083.8 882.8 L1084.9 882.9 L1086.1 883.1 L1087.3 883.3"/>
<path class="c g" style="stroke-width:14.1;stroke-dashoffset:776.8" d="M1086.1 883.1 L1087.3 883.3 L1088.4 883.4 L1089.6 883.6 L1090.8 883.8 L1091.9 883.9 L1093.1 884.1 L1094.3 884.2 L1095.4 884.4 L1096.6 884.5 L1097.7 884.7 L1098.9 884.8 L1100.1 884.9 L1101.2 885.1 L1102.4 885.2 L1103.6 885.3 L1104.7 885.5 L1105.9 885.6 L1107.1 885.7 L1108.2 885.8 L1109.4 886.0 L1110.6 886.1 L1111.7 886.2 L1112.9 886.3 L1114.0 886.4"/>
<path class="c g" style="stroke-width:14.1;stroke-dashoffset:803.8" d="M1112.9 886.3 L1114.0 886.4 L1115.2 886.5 L1116.4 886.7 L1117.5 886.8 L1118.7 886.9 L1119.9 887.0 L1121.0 887.1 L1122.2 887.2 L1123.4 887.3 L1124.5 887.4 L1125.7 887.5 L1126.8 887.6 L1128.0 887.7 L1129.2 887.7 L1130.3 887.8 L1131.5 887.9 L1132.7 888.0 L1133.8 888.1 L1135.0 888.2 L1136.2 888.3 L1137.3 888.4 L1138.5 888.4 L1139.7 888.5 L1140.8 888.6"/>
<path class="c g" style="stroke-width:14.2;stroke-dashoffset:830.6" d="M1139.7 888.5 L1140.8 888.6 L1142.0 888.7 L1143.1 888.8 L1144.3 888.8 L1145.5 888.9 L1146.6 889.0 L1147.8 889.1 L1149.0 889.1 L1150.1 889.2 L1151.3 889.3 L1152.5 889.3 L1153.6 889.4 L1154.8 889.5 L1156.0 889.6 L1157.1 889.6 L1158.3 889.7 L1159.4 889.8 L1160.6 889.8 L1161.8 889.9 L1162.9 890.0 L1164.1 890.0 L1165.3 890.1 L1166.4 890.2 L1167.6 890.2"/>
<path class="c g" style="stroke-width:14.2;stroke-dashoffset:857.4" d="M1166.4 890.2 L1167.6 890.2 L1168.8 890.3 L1169.9 890.3 L1171.1 890.4 L1172.2 890.5 L1173.4 890.5 L1174.6 890.6 L1175.7 890.6 L1176.9 890.7 L1178.1 890.8 L1179.2 890.8 L1180.4 890.9 L1181.6 890.9 L1182.7 891.0 L1183.9 891.1 L1185.1 891.1 L1186.2 891.2 L1187.4 891.2 L1188.5 891.3 L1189.7 891.3 L1190.9 891.4 L1192.0 891.4 L1193.2 891.5 L1194.4 891.6"/>
<path class="c g" style="stroke-width:14.2;stroke-dashoffset:884.3" d="M1193.2 891.5 L1194.4 891.6 L1195.5 891.6 L1196.7 891.7 L1197.9 891.7 L1199.0 891.8 L1200.2 891.8 L1201.4 891.9 L1202.5 891.9 L1203.7 892.0 L1204.8 892.1 L1206.0 892.1 L1207.2 892.2 L1208.3 892.2 L1209.5 892.3 L1210.7 892.3 L1211.8 892.4 L1213.0 892.5 L1214.2 892.5 L1215.3 892.6 L1216.5 892.6 L1217.6 892.7 L1218.8 892.7 L1220.0 892.8 L1221.1 892.8"/>
<path class="c g" style="stroke-width:14.2;stroke-dashoffset:911.1" d="M1220.0 892.8 L1221.1 892.8 L1222.3 892.9 L1223.5 893.0 L1224.6 893.0 L1225.8 893.1 L1227.0 893.1 L1228.1 893.2 L1229.3 893.2 L1230.5 893.3 L1231.6 893.3 L1232.8 893.4 L1233.9 893.4 L1235.1 893.5 L1236.3 893.6 L1237.4 893.6 L1238.6 893.7 L1239.8 893.7 L1240.9 893.8 L1242.1 893.8 L1243.3 893.9 L1244.4 893.9 L1245.6 894.0 L1246.8 894.0 L1247.9 894.1"/>
<path class="c g" style="stroke-width:14.2;stroke-dashoffset:937.9" d="M1246.8 894.0 L1247.9 894.1 L1249.1 894.1 L1250.2 894.2 L1251.4 894.3 L1252.6 894.3 L1253.7 894.4 L1254.9 894.4 L1256.1 894.5 L1257.2 894.5 L1258.4 894.6 L1259.6 894.6 L1260.7 894.7 L1261.9 894.7 L1263.1 894.8 L1264.2 894.8 L1265.4 894.9 L1266.5 894.9 L1267.7 895.0 L1268.9 895.0 L1270.0 895.1 L1271.2 895.1 L1272.4 895.2 L1273.5 895.2 L1274.7 895.3"/>
<path class="c g" style="stroke-width:14.2;stroke-dashoffset:964.7" d="M1273.5 895.2 L1274.7 895.3 L1275.9 895.3 L1277.0 895.4 L1278.2 895.4 L1279.3 895.5 L1280.5 895.5 L1281.7 895.6 L1282.8 895.6 L1284.0 895.7 L1285.2 895.7 L1286.3 895.8 L1287.5 895.8 L1288.7 895.9 L1289.8 895.9 L1291.0 896.0 L1292.2 896.0 L1293.3 896.1 L1294.5 896.1 L1295.6 896.2 L1296.8 896.2 L1298.0 896.3 L1299.1 896.3 L1300.3 896.4 L1301.5 896.4"/>
<path class="c g" style="stroke-width:14.2;stroke-dashoffset:991.5" d="M1300.3 896.4 L1301.5 896.4 L1302.6 896.5 L1303.8 896.5 L1305.0 896.6 L1306.1 896.6 L1307.3 896.7 L1308.5 896.7 L1309.6 896.7 L1310.8 896.8 L1311.9 896.8 L1313.1 896.9 L1314.3 896.9 L1315.4 897.0 L1316.6 897.0 L1317.8 897.1 L1318.9 897.1 L1320.1 897.1 L1321.3 897.2 L1322.4 897.2 L1323.6 897.3 L1324.7 897.3 L1325.9 897.4 L1327.1 897.4 L1328.2 897.4"/>
<path class="c g" style="stroke-width:14.2;stroke-dashoffset:1018.3" d="M1327.1 897.4 L1328.2 897.4 L1329.4 897.5 L1330.6 897.5 L1331.7 897.6 L1332.9 897.6 L1334.1 897.6 L1335.2 897.7 L1336.4 897.7 L1337.6 897.8 L1338.7 897.8 L1339.9 897.8 L1341.0 897.9 L1342.2 897.9 L1343.4 898.0 L1344.5 898.0 L1345.7 898.0 L1346.9 898.1 L1348.0 898.1 L1349.2 898.2 L1350.4 898.2 L1351.5 898.2 L1352.7 898.3 L1353.9 898.3 L1355.0 898.3"/>
<path class="c g" style="stroke-width:14.2;stroke-dashoffset:1045.0" d="M1353.9 898.3 L1355.0 898.3 L1356.2 898.4 L1357.3 898.4 L1358.5 898.4 L1359.7 898.5 L1360.8 898.5 L1362.0 898.5 L1363.2 898.6 L1364.3 898.6 L1365.5 898.6 L1366.7 898.7 L1367.8 898.7 L1369.0 898.7 L1370.2 898.8 L1371.3 898.8 L1372.5 898.8 L1373.6 898.9 L1374.8 898.9 L1376.0 898.9 L1377.1 899.0 L1378.3 899.0 L1379.5 899.0 L1380.6 899.1 L1381.8 899.1"/>
<path class="c g" style="stroke-width:14.2;stroke-dashoffset:1071.8" d="M1380.6 899.1 L1381.8 899.1 L1383.0 899.1 L1384.1 899.1 L1385.3 899.2 L1386.4 899.2 L1387.6 899.2 L1388.8 899.2 L1389.9 899.3 L1391.1 899.3 L1392.3 899.3 L1393.4 899.4 L1394.6 899.4 L1395.8 899.4 L1396.9 899.4 L1398.1 899.4 L1399.3 899.5 L1400.4 899.5 L1401.6 899.5 L1402.7 899.5 L1403.9 899.6 L1405.1 899.6 L1406.2 899.6 L1407.4 899.6 L1408.6 899.6"/>
<path class="c g" style="stroke-width:14.2;stroke-dashoffset:1098.6" d="M1407.4 899.6 L1408.6 899.6 L1409.7 899.7 L1410.9 899.7 L1412.1 899.7 L1413.2 899.7 L1414.4 899.7 L1415.6 899.8 L1416.7 899.8 L1417.9 899.8 L1419.0 899.8 L1420.2 899.8 L1421.4 899.8 L1422.5 899.9 L1423.7 899.9"/>
</g>
<g id="legend">
<rect class="ax" x="1469.8" y="86.6" width="508.2" height="341.7" style="fill:#ffffff"/>
<g class="cv">
<path class="c cl r" d="M1479 136 H1813.5"/>
<path class="c cl b" d="M1478.6 241.6 H1803"/>
<path class="c cl g" style="stroke-dasharray:14.6 13.46" d="M1478.6 364.8 H1805"/>
</g>
<text class="leg" transform="translate(1811 161.3) skewX(-12) scale(1.08 0.75)" style="font-family:'DejaVu Sans Light','DejaVu Sans','Liberation Serif',serif;font-weight:200;stroke:#151515;stroke-width:1.1">τ</text>
<text class="leg" x="1858.5" y="161.5">(t)</text>
<text class="leg" x="1822" y="253">z<tspan dy="35" font-size="60">1</tspan><tspan dy="-35" dx="6.5">(t)</tspan></text>
<text class="leg" x="1823" y="372">x<tspan dy="37" font-size="60">1</tspan><tspan dy="-37" dx="5">(t)</tspan></text>
</g>
</g>
</svg>
</body></html>
